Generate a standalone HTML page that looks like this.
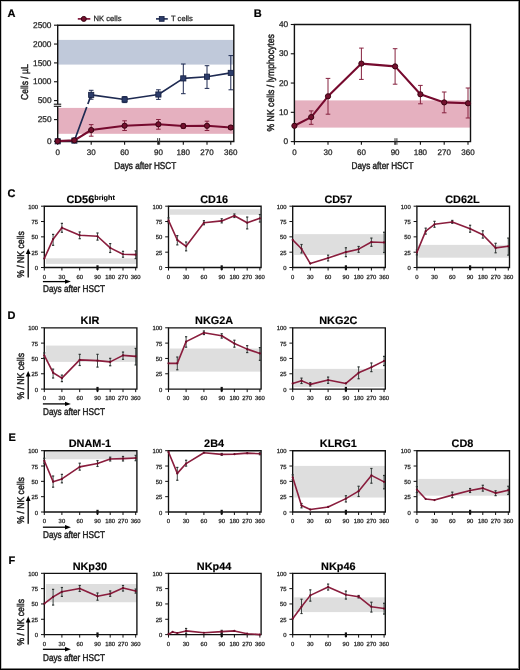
<!DOCTYPE html>
<html><head><meta charset="utf-8"><style>
html,body{margin:0;padding:0;background:#fff;}
svg{display:block;font-family:"Liberation Sans", sans-serif;will-change:transform;text-rendering:geometricPrecision;}
</style></head><body>
<svg width="520" height="670" viewBox="0 0 520 670">
<rect width="520" height="670" fill="#fff"/>
<g>
<rect width="520" height="670" fill="#fff"/>
<rect x="0.00" y="0.00" width="520.00" height="1.00" fill="#000" />
<rect x="0.00" y="0.00" width="1.00" height="670.00" fill="#000" />
<rect x="1.00" y="1.00" width="518.00" height="1.00" fill="#c8c8c8" />
<rect x="1.00" y="1.00" width="1.00" height="668.00" fill="#c8c8c8" />
<rect x="518.00" y="1.00" width="1.00" height="668.00" fill="#808080" />
<rect x="1.00" y="668.00" width="518.00" height="1.00" fill="#808080" />
<rect x="519.00" y="0.00" width="1.00" height="670.00" fill="#000" />
<rect x="0.00" y="669.00" width="520.00" height="1.00" fill="#000" />
<text x="7.60" y="17.20" font-size="11" text-anchor="start" font-weight="bold" fill="#000" stroke="#000" stroke-width="0.2" >A</text>
<text x="253.80" y="16.90" font-size="11" text-anchor="start" font-weight="bold" fill="#000" stroke="#000" stroke-width="0.2" >B</text>
<text x="7.60" y="196.80" font-size="11" text-anchor="start" font-weight="bold" fill="#000" stroke="#000" stroke-width="0.2" >C</text>
<text x="7.60" y="318.60" font-size="11" text-anchor="start" font-weight="bold" fill="#000" stroke="#000" stroke-width="0.2" >D</text>
<text x="8.40" y="441.20" font-size="11" text-anchor="start" font-weight="bold" fill="#000" stroke="#000" stroke-width="0.2" >E</text>
<text x="8.40" y="564.20" font-size="11" text-anchor="start" font-weight="bold" fill="#000" stroke="#000" stroke-width="0.2" >F</text>
<rect x="57.70" y="39.90" width="176.10" height="24.69" fill="#c0c9da" />
<rect x="57.70" y="107.90" width="176.10" height="25.90" fill="#e5b0bf" />
<path d="M57.7,25.2 H233.8 V141.5 H57.7 Z" fill="none" stroke="#111" stroke-width="1.4"/>
<rect x="56.20" y="104.30" width="3.00" height="2.00" fill="#fff" />
<line x1="53.80" y1="104.20" x2="61.20" y2="104.20" stroke="#111" stroke-width="1.1" />
<line x1="53.80" y1="106.30" x2="61.20" y2="106.30" stroke="#111" stroke-width="1.1" />
<line x1="54.00" y1="25.20" x2="57.70" y2="25.20" stroke="#111" stroke-width="1.1" />
<text x="51.50" y="27.80" font-size="8.3" text-anchor="end" font-weight="normal" fill="#222" stroke="#222" stroke-width="0.25" >2500</text>
<line x1="54.00" y1="44.05" x2="57.70" y2="44.05" stroke="#111" stroke-width="1.1" />
<text x="51.50" y="46.65" font-size="8.3" text-anchor="end" font-weight="normal" fill="#222" stroke="#222" stroke-width="0.25" >2000</text>
<line x1="54.00" y1="62.90" x2="57.70" y2="62.90" stroke="#111" stroke-width="1.1" />
<text x="51.50" y="65.50" font-size="8.3" text-anchor="end" font-weight="normal" fill="#222" stroke="#222" stroke-width="0.25" >1500</text>
<line x1="54.00" y1="81.75" x2="57.70" y2="81.75" stroke="#111" stroke-width="1.1" />
<text x="51.50" y="84.35" font-size="8.3" text-anchor="end" font-weight="normal" fill="#222" stroke="#222" stroke-width="0.25" >1000</text>
<line x1="54.00" y1="100.60" x2="57.70" y2="100.60" stroke="#111" stroke-width="1.1" />
<text x="51.50" y="103.20" font-size="8.3" text-anchor="end" font-weight="normal" fill="#222" stroke="#222" stroke-width="0.25" >500</text>
<line x1="54.00" y1="119.60" x2="57.70" y2="119.60" stroke="#111" stroke-width="1.1" />
<text x="51.50" y="122.20" font-size="8.3" text-anchor="end" font-weight="normal" fill="#222" stroke="#222" stroke-width="0.25" >250</text>
<line x1="54.00" y1="141.30" x2="57.70" y2="141.30" stroke="#111" stroke-width="1.1" />
<text x="51.50" y="143.90" font-size="8.3" text-anchor="end" font-weight="normal" fill="#222" stroke="#222" stroke-width="0.25" >0</text>
<line x1="57.70" y1="141.50" x2="57.70" y2="144.70" stroke="#111" stroke-width="1.1" />
<text x="57.70" y="155.20" font-size="8" text-anchor="middle" font-weight="normal" fill="#222" stroke="#222" stroke-width="0.25" >0</text>
<line x1="91.20" y1="141.50" x2="91.20" y2="144.70" stroke="#111" stroke-width="1.1" />
<text x="91.20" y="155.20" font-size="8" text-anchor="middle" font-weight="normal" fill="#222" stroke="#222" stroke-width="0.25" >30</text>
<line x1="124.60" y1="141.50" x2="124.60" y2="144.70" stroke="#111" stroke-width="1.1" />
<text x="124.60" y="155.20" font-size="8" text-anchor="middle" font-weight="normal" fill="#222" stroke="#222" stroke-width="0.25" >60</text>
<line x1="158.40" y1="141.50" x2="158.40" y2="144.70" stroke="#111" stroke-width="1.1" />
<text x="158.40" y="155.20" font-size="8" text-anchor="middle" font-weight="normal" fill="#222" stroke="#222" stroke-width="0.25" >90</text>
<line x1="183.30" y1="141.50" x2="183.30" y2="144.70" stroke="#111" stroke-width="1.1" />
<text x="183.30" y="155.20" font-size="8" text-anchor="middle" font-weight="normal" fill="#222" stroke="#222" stroke-width="0.25" >180</text>
<line x1="207.00" y1="141.50" x2="207.00" y2="144.70" stroke="#111" stroke-width="1.1" />
<text x="207.00" y="155.20" font-size="8" text-anchor="middle" font-weight="normal" fill="#222" stroke="#222" stroke-width="0.25" >270</text>
<line x1="230.80" y1="141.50" x2="230.80" y2="144.70" stroke="#111" stroke-width="1.1" />
<text x="230.80" y="155.20" font-size="8" text-anchor="middle" font-weight="normal" fill="#222" stroke="#222" stroke-width="0.25" >360</text>
<line x1="157.70" y1="138.10" x2="157.70" y2="144.70" stroke="#333" stroke-width="1.0" />
<line x1="159.60" y1="138.10" x2="159.60" y2="144.70" stroke="#333" stroke-width="1.0" />
<text x="114.30" y="168.60" font-size="10" text-anchor="start" font-weight="normal" fill="#222" stroke="#222" stroke-width="0.45" textLength="61.90" lengthAdjust="spacingAndGlyphs" >Days after HSCT</text>
<text x="0.00" y="0.00" font-size="10" text-anchor="start" font-weight="normal" fill="#222" stroke="#222" stroke-width="0.45" textLength="35.70" lengthAdjust="spacingAndGlyphs" transform="translate(27.6,100) rotate(-90)">Cells / µL</text>
<line x1="91.20" y1="90.30" x2="91.20" y2="99.20" stroke="#1e2a52" stroke-width="1.0" />
<line x1="88.90" y1="90.30" x2="93.50" y2="90.30" stroke="#1e2a52" stroke-width="1.0" />
<line x1="88.90" y1="99.20" x2="93.50" y2="99.20" stroke="#1e2a52" stroke-width="1.0" />
<line x1="124.60" y1="96.60" x2="124.60" y2="102.60" stroke="#1e2a52" stroke-width="1.0" />
<line x1="122.30" y1="96.60" x2="126.90" y2="96.60" stroke="#1e2a52" stroke-width="1.0" />
<line x1="122.30" y1="102.60" x2="126.90" y2="102.60" stroke="#1e2a52" stroke-width="1.0" />
<line x1="158.40" y1="89.80" x2="158.40" y2="99.40" stroke="#1e2a52" stroke-width="1.0" />
<line x1="156.10" y1="89.80" x2="160.70" y2="89.80" stroke="#1e2a52" stroke-width="1.0" />
<line x1="156.10" y1="99.40" x2="160.70" y2="99.40" stroke="#1e2a52" stroke-width="1.0" />
<line x1="183.30" y1="64.00" x2="183.30" y2="93.70" stroke="#1e2a52" stroke-width="1.0" />
<line x1="181.00" y1="64.00" x2="185.60" y2="64.00" stroke="#1e2a52" stroke-width="1.0" />
<line x1="181.00" y1="93.70" x2="185.60" y2="93.70" stroke="#1e2a52" stroke-width="1.0" />
<line x1="207.00" y1="65.70" x2="207.00" y2="88.40" stroke="#1e2a52" stroke-width="1.0" />
<line x1="204.70" y1="65.70" x2="209.30" y2="65.70" stroke="#1e2a52" stroke-width="1.0" />
<line x1="204.70" y1="88.40" x2="209.30" y2="88.40" stroke="#1e2a52" stroke-width="1.0" />
<line x1="230.80" y1="55.60" x2="230.80" y2="89.80" stroke="#1e2a52" stroke-width="1.0" />
<line x1="228.50" y1="55.60" x2="233.10" y2="55.60" stroke="#1e2a52" stroke-width="1.0" />
<line x1="228.50" y1="89.80" x2="233.10" y2="89.80" stroke="#1e2a52" stroke-width="1.0" />
<polyline points="57.70,141.30 74.40,140.60 91.20,94.90 124.60,99.50 158.40,94.50 183.30,78.40 207.00,76.70 230.80,72.90" fill="none" stroke="#1e2a52" stroke-width="1.6" stroke-linejoin="round"/>
<line x1="87.89" y1="103.9" x2="86.75" y2="107.0" stroke="#fff" stroke-width="3"/>
<rect x="55.10" y="138.70" width="5.20" height="5.20" fill="#2c3c6a" stroke="#151f40" stroke-width="0.8"/>
<rect x="71.80" y="138.00" width="5.20" height="5.20" fill="#2c3c6a" stroke="#151f40" stroke-width="0.8"/>
<rect x="88.60" y="92.30" width="5.20" height="5.20" fill="#2c3c6a" stroke="#151f40" stroke-width="0.8"/>
<rect x="122.00" y="96.90" width="5.20" height="5.20" fill="#2c3c6a" stroke="#151f40" stroke-width="0.8"/>
<rect x="155.80" y="91.90" width="5.20" height="5.20" fill="#2c3c6a" stroke="#151f40" stroke-width="0.8"/>
<rect x="180.70" y="75.80" width="5.20" height="5.20" fill="#2c3c6a" stroke="#151f40" stroke-width="0.8"/>
<rect x="204.40" y="74.10" width="5.20" height="5.20" fill="#2c3c6a" stroke="#151f40" stroke-width="0.8"/>
<rect x="228.20" y="70.30" width="5.20" height="5.20" fill="#2c3c6a" stroke="#151f40" stroke-width="0.8"/>
<line x1="91.20" y1="124.60" x2="91.20" y2="136.20" stroke="#86223f" stroke-width="1.0" />
<line x1="88.90" y1="124.60" x2="93.50" y2="124.60" stroke="#86223f" stroke-width="1.0" />
<line x1="88.90" y1="136.20" x2="93.50" y2="136.20" stroke="#86223f" stroke-width="1.0" />
<line x1="124.60" y1="120.80" x2="124.60" y2="130.50" stroke="#86223f" stroke-width="1.0" />
<line x1="122.30" y1="120.80" x2="126.90" y2="120.80" stroke="#86223f" stroke-width="1.0" />
<line x1="122.30" y1="130.50" x2="126.90" y2="130.50" stroke="#86223f" stroke-width="1.0" />
<line x1="158.40" y1="119.50" x2="158.40" y2="129.20" stroke="#86223f" stroke-width="1.0" />
<line x1="156.10" y1="119.50" x2="160.70" y2="119.50" stroke="#86223f" stroke-width="1.0" />
<line x1="156.10" y1="129.20" x2="160.70" y2="129.20" stroke="#86223f" stroke-width="1.0" />
<line x1="183.30" y1="123.80" x2="183.30" y2="128.30" stroke="#86223f" stroke-width="1.0" />
<line x1="181.00" y1="123.80" x2="185.60" y2="123.80" stroke="#86223f" stroke-width="1.0" />
<line x1="181.00" y1="128.30" x2="185.60" y2="128.30" stroke="#86223f" stroke-width="1.0" />
<line x1="207.00" y1="121.20" x2="207.00" y2="130.50" stroke="#86223f" stroke-width="1.0" />
<line x1="204.70" y1="121.20" x2="209.30" y2="121.20" stroke="#86223f" stroke-width="1.0" />
<line x1="204.70" y1="130.50" x2="209.30" y2="130.50" stroke="#86223f" stroke-width="1.0" />
<line x1="230.80" y1="125.50" x2="230.80" y2="129.50" stroke="#86223f" stroke-width="1.0" />
<line x1="228.50" y1="125.50" x2="233.10" y2="125.50" stroke="#86223f" stroke-width="1.0" />
<line x1="228.50" y1="129.50" x2="233.10" y2="129.50" stroke="#86223f" stroke-width="1.0" />
<polyline points="57.70,141.10 74.40,140.30 91.20,130.00 124.60,125.70 158.40,124.30 183.30,126.00 207.00,125.80 230.80,127.50" fill="none" stroke="#760a2e" stroke-width="2.1" stroke-linejoin="round"/>
<circle cx="57.70" cy="141.10" r="2.6" fill="#74102e" stroke="#3a0412" stroke-width="1.0"/>
<circle cx="74.40" cy="140.30" r="2.6" fill="#74102e" stroke="#3a0412" stroke-width="1.0"/>
<circle cx="91.20" cy="130.00" r="2.6" fill="#74102e" stroke="#3a0412" stroke-width="1.0"/>
<circle cx="124.60" cy="125.70" r="2.6" fill="#74102e" stroke="#3a0412" stroke-width="1.0"/>
<circle cx="158.40" cy="124.30" r="2.6" fill="#74102e" stroke="#3a0412" stroke-width="1.0"/>
<circle cx="183.30" cy="126.00" r="2.6" fill="#74102e" stroke="#3a0412" stroke-width="1.0"/>
<circle cx="207.00" cy="125.80" r="2.6" fill="#74102e" stroke="#3a0412" stroke-width="1.0"/>
<circle cx="230.80" cy="127.50" r="2.6" fill="#74102e" stroke="#3a0412" stroke-width="1.0"/>
<line x1="77.80" y1="18.90" x2="90.30" y2="18.90" stroke="#760a2e" stroke-width="1.6" />
<circle cx="83.8" cy="18.9" r="2.5" fill="#74102e" stroke="#3a0412" stroke-width="1.0"/>
<text x="93.60" y="21.40" font-size="7.6" text-anchor="start" font-weight="normal" fill="#222" stroke="#222" stroke-width="0.25" >NK cells</text>
<line x1="156.00" y1="18.90" x2="167.80" y2="18.90" stroke="#1e2a52" stroke-width="1.6" />
<rect x="159.30" y="16.50" width="4.80" height="4.80" fill="#2c3c6a" stroke="#151f40" stroke-width="0.8"/>
<text x="171.00" y="21.40" font-size="7.6" text-anchor="start" font-weight="normal" fill="#222" stroke="#222" stroke-width="0.25" >T cells</text>
<rect x="294.40" y="100.40" width="176.10" height="27.20" fill="#e5b0bf" />
<path d="M294.4,24.5 H470.5 V141.6 H294.4 Z" fill="none" stroke="#111" stroke-width="1.4"/>
<line x1="290.80" y1="141.60" x2="294.40" y2="141.60" stroke="#111" stroke-width="1.1" />
<text x="288.20" y="144.20" font-size="8.3" text-anchor="end" font-weight="normal" fill="#222" stroke="#222" stroke-width="0.25" >0</text>
<line x1="290.80" y1="112.32" x2="294.40" y2="112.32" stroke="#111" stroke-width="1.1" />
<text x="288.20" y="114.92" font-size="8.3" text-anchor="end" font-weight="normal" fill="#222" stroke="#222" stroke-width="0.25" >10</text>
<line x1="290.80" y1="83.05" x2="294.40" y2="83.05" stroke="#111" stroke-width="1.1" />
<text x="288.20" y="85.65" font-size="8.3" text-anchor="end" font-weight="normal" fill="#222" stroke="#222" stroke-width="0.25" >20</text>
<line x1="290.80" y1="53.77" x2="294.40" y2="53.77" stroke="#111" stroke-width="1.1" />
<text x="288.20" y="56.37" font-size="8.3" text-anchor="end" font-weight="normal" fill="#222" stroke="#222" stroke-width="0.25" >30</text>
<line x1="290.80" y1="24.50" x2="294.40" y2="24.50" stroke="#111" stroke-width="1.1" />
<text x="288.20" y="27.10" font-size="8.3" text-anchor="end" font-weight="normal" fill="#222" stroke="#222" stroke-width="0.25" >40</text>
<line x1="294.40" y1="141.60" x2="294.40" y2="144.80" stroke="#111" stroke-width="1.1" />
<text x="294.40" y="155.40" font-size="8" text-anchor="middle" font-weight="normal" fill="#222" stroke="#222" stroke-width="0.25" >0</text>
<line x1="328.00" y1="141.60" x2="328.00" y2="144.80" stroke="#111" stroke-width="1.1" />
<text x="328.00" y="155.40" font-size="8" text-anchor="middle" font-weight="normal" fill="#222" stroke="#222" stroke-width="0.25" >30</text>
<line x1="361.40" y1="141.60" x2="361.40" y2="144.80" stroke="#111" stroke-width="1.1" />
<text x="361.40" y="155.40" font-size="8" text-anchor="middle" font-weight="normal" fill="#222" stroke="#222" stroke-width="0.25" >60</text>
<line x1="395.10" y1="141.60" x2="395.10" y2="144.80" stroke="#111" stroke-width="1.1" />
<text x="395.10" y="155.40" font-size="8" text-anchor="middle" font-weight="normal" fill="#222" stroke="#222" stroke-width="0.25" >90</text>
<line x1="420.40" y1="141.60" x2="420.40" y2="144.80" stroke="#111" stroke-width="1.1" />
<text x="420.40" y="155.40" font-size="8" text-anchor="middle" font-weight="normal" fill="#222" stroke="#222" stroke-width="0.25" >180</text>
<line x1="444.20" y1="141.60" x2="444.20" y2="144.80" stroke="#111" stroke-width="1.1" />
<text x="444.20" y="155.40" font-size="8" text-anchor="middle" font-weight="normal" fill="#222" stroke="#222" stroke-width="0.25" >270</text>
<line x1="468.00" y1="141.60" x2="468.00" y2="144.80" stroke="#111" stroke-width="1.1" />
<text x="468.00" y="155.40" font-size="8" text-anchor="middle" font-weight="normal" fill="#222" stroke="#222" stroke-width="0.25" >360</text>
<line x1="395.00" y1="138.20" x2="395.00" y2="144.80" stroke="#333" stroke-width="1.0" />
<line x1="396.90" y1="138.20" x2="396.90" y2="144.80" stroke="#333" stroke-width="1.0" />
<text x="351.60" y="168.90" font-size="10" text-anchor="start" font-weight="normal" fill="#222" stroke="#222" stroke-width="0.45" textLength="61.90" lengthAdjust="spacingAndGlyphs" >Days after HSCT</text>
<text x="0.00" y="0.00" font-size="10" text-anchor="start" font-weight="normal" fill="#222" stroke="#222" stroke-width="0.45" textLength="97.40" lengthAdjust="spacingAndGlyphs" transform="translate(273.7,131.5) rotate(-90)">% NK cells / lymphocytes</text>
<line x1="311.20" y1="110.90" x2="311.20" y2="124.30" stroke="#86223f" stroke-width="1.0" />
<line x1="308.90" y1="110.90" x2="313.50" y2="110.90" stroke="#86223f" stroke-width="1.0" />
<line x1="308.90" y1="124.30" x2="313.50" y2="124.30" stroke="#86223f" stroke-width="1.0" />
<line x1="328.00" y1="78.40" x2="328.00" y2="114.20" stroke="#86223f" stroke-width="1.0" />
<line x1="325.70" y1="78.40" x2="330.30" y2="78.40" stroke="#86223f" stroke-width="1.0" />
<line x1="325.70" y1="114.20" x2="330.30" y2="114.20" stroke="#86223f" stroke-width="1.0" />
<line x1="361.40" y1="48.10" x2="361.40" y2="79.40" stroke="#86223f" stroke-width="1.0" />
<line x1="359.10" y1="48.10" x2="363.70" y2="48.10" stroke="#86223f" stroke-width="1.0" />
<line x1="359.10" y1="79.40" x2="363.70" y2="79.40" stroke="#86223f" stroke-width="1.0" />
<line x1="395.10" y1="48.70" x2="395.10" y2="84.20" stroke="#86223f" stroke-width="1.0" />
<line x1="392.80" y1="48.70" x2="397.40" y2="48.70" stroke="#86223f" stroke-width="1.0" />
<line x1="392.80" y1="84.20" x2="397.40" y2="84.20" stroke="#86223f" stroke-width="1.0" />
<line x1="420.40" y1="85.40" x2="420.40" y2="103.80" stroke="#86223f" stroke-width="1.0" />
<line x1="418.10" y1="85.40" x2="422.70" y2="85.40" stroke="#86223f" stroke-width="1.0" />
<line x1="418.10" y1="103.80" x2="422.70" y2="103.80" stroke="#86223f" stroke-width="1.0" />
<line x1="444.20" y1="92.00" x2="444.20" y2="112.80" stroke="#86223f" stroke-width="1.0" />
<line x1="441.90" y1="92.00" x2="446.50" y2="92.00" stroke="#86223f" stroke-width="1.0" />
<line x1="441.90" y1="112.80" x2="446.50" y2="112.80" stroke="#86223f" stroke-width="1.0" />
<line x1="468.00" y1="88.00" x2="468.00" y2="118.00" stroke="#86223f" stroke-width="1.0" />
<line x1="465.70" y1="88.00" x2="470.30" y2="88.00" stroke="#86223f" stroke-width="1.0" />
<line x1="465.70" y1="118.00" x2="470.30" y2="118.00" stroke="#86223f" stroke-width="1.0" />
<polyline points="294.40,125.80 311.20,117.10 328.00,96.30 361.40,63.60 395.10,66.40 420.40,94.30 444.20,102.40 468.00,103.30" fill="none" stroke="#760a2e" stroke-width="2.1" stroke-linejoin="round"/>
<circle cx="294.40" cy="125.80" r="2.6" fill="#74102e" stroke="#3a0412" stroke-width="1.0"/>
<circle cx="311.20" cy="117.10" r="2.6" fill="#74102e" stroke="#3a0412" stroke-width="1.0"/>
<circle cx="328.00" cy="96.30" r="2.6" fill="#74102e" stroke="#3a0412" stroke-width="1.0"/>
<circle cx="361.40" cy="63.60" r="2.6" fill="#74102e" stroke="#3a0412" stroke-width="1.0"/>
<circle cx="395.10" cy="66.40" r="2.6" fill="#74102e" stroke="#3a0412" stroke-width="1.0"/>
<circle cx="420.40" cy="94.30" r="2.6" fill="#74102e" stroke="#3a0412" stroke-width="1.0"/>
<circle cx="444.20" cy="102.40" r="2.6" fill="#74102e" stroke="#3a0412" stroke-width="1.0"/>
<circle cx="468.00" cy="103.30" r="2.6" fill="#74102e" stroke="#3a0412" stroke-width="1.0"/>
<rect x="45.80" y="258.31" width="91.10" height="5.58" fill="#dedede" />
<path d="M44.3,206.20 H136.90 V267.5 H44.3 Z" fill="none" stroke="#111" stroke-width="1.35"/>
<line x1="41.00" y1="267.50" x2="44.30" y2="267.50" stroke="#111" stroke-width="1.0" />
<text x="38.10" y="270.00" font-size="5.9" text-anchor="end" font-weight="normal" fill="#222" stroke="#222" stroke-width="0.25" >0</text>
<line x1="41.00" y1="252.18" x2="44.30" y2="252.18" stroke="#111" stroke-width="1.0" />
<text x="38.10" y="254.68" font-size="5.9" text-anchor="end" font-weight="normal" fill="#222" stroke="#222" stroke-width="0.25" >25</text>
<line x1="41.00" y1="236.85" x2="44.30" y2="236.85" stroke="#111" stroke-width="1.0" />
<text x="38.10" y="239.35" font-size="5.9" text-anchor="end" font-weight="normal" fill="#222" stroke="#222" stroke-width="0.25" >50</text>
<line x1="41.00" y1="221.53" x2="44.30" y2="221.53" stroke="#111" stroke-width="1.0" />
<text x="38.10" y="224.03" font-size="5.9" text-anchor="end" font-weight="normal" fill="#222" stroke="#222" stroke-width="0.25" >75</text>
<line x1="41.00" y1="206.20" x2="44.30" y2="206.20" stroke="#111" stroke-width="1.0" />
<text x="38.10" y="208.70" font-size="5.9" text-anchor="end" font-weight="normal" fill="#222" stroke="#222" stroke-width="0.25" >100</text>
<line x1="44.30" y1="267.50" x2="44.30" y2="270.50" stroke="#111" stroke-width="1.0" />
<text x="44.30" y="278.80" font-size="5.9" text-anchor="middle" font-weight="normal" fill="#222" stroke="#222" stroke-width="0.25" >0</text>
<line x1="61.90" y1="267.50" x2="61.90" y2="270.50" stroke="#111" stroke-width="1.0" />
<text x="61.90" y="278.80" font-size="5.9" text-anchor="middle" font-weight="normal" fill="#222" stroke="#222" stroke-width="0.25" >30</text>
<line x1="79.70" y1="267.50" x2="79.70" y2="270.50" stroke="#111" stroke-width="1.0" />
<text x="79.70" y="278.80" font-size="5.9" text-anchor="middle" font-weight="normal" fill="#222" stroke="#222" stroke-width="0.25" >60</text>
<line x1="97.50" y1="267.50" x2="97.50" y2="270.50" stroke="#111" stroke-width="1.0" />
<text x="97.50" y="278.80" font-size="5.9" text-anchor="middle" font-weight="normal" fill="#222" stroke="#222" stroke-width="0.25" >90</text>
<line x1="110.20" y1="267.50" x2="110.20" y2="270.50" stroke="#111" stroke-width="1.0" />
<text x="110.20" y="278.80" font-size="5.9" text-anchor="middle" font-weight="normal" fill="#222" stroke="#222" stroke-width="0.25" >180</text>
<line x1="123.00" y1="267.50" x2="123.00" y2="270.50" stroke="#111" stroke-width="1.0" />
<text x="123.00" y="278.80" font-size="5.9" text-anchor="middle" font-weight="normal" fill="#222" stroke="#222" stroke-width="0.25" >270</text>
<line x1="135.70" y1="267.50" x2="135.70" y2="270.50" stroke="#111" stroke-width="1.0" />
<text x="135.70" y="278.80" font-size="5.9" text-anchor="middle" font-weight="normal" fill="#222" stroke="#222" stroke-width="0.25" >360</text>
<rect x="96.40" y="265.30" width="2.20" height="4.60" fill="#111" />
<text x="80.30" y="202.80" font-size="10.9" text-anchor="middle" font-weight="bold" fill="#000" stroke="#000" stroke-width="0.15" >CD56</text>
<text x="94.30" y="199.60" font-size="7.2" text-anchor="start" font-weight="bold" fill="#000" stroke="#000" stroke-width="0.1" textLength="20.60" lengthAdjust="spacingAndGlyphs" >bright</text>
<line x1="53.10" y1="234.40" x2="53.10" y2="245.31" stroke="#2e3533" stroke-width="0.9" />
<line x1="52.00" y1="234.40" x2="54.20" y2="234.40" stroke="#2e3533" stroke-width="1.2" />
<line x1="52.00" y1="245.31" x2="54.20" y2="245.31" stroke="#2e3533" stroke-width="1.2" />
<line x1="61.90" y1="223.36" x2="61.90" y2="232.25" stroke="#2e3533" stroke-width="0.9" />
<line x1="60.80" y1="223.36" x2="63.00" y2="223.36" stroke="#2e3533" stroke-width="1.2" />
<line x1="60.80" y1="232.25" x2="63.00" y2="232.25" stroke="#2e3533" stroke-width="1.2" />
<line x1="79.70" y1="231.95" x2="79.70" y2="238.69" stroke="#2e3533" stroke-width="0.9" />
<line x1="78.60" y1="231.95" x2="80.80" y2="231.95" stroke="#2e3533" stroke-width="1.2" />
<line x1="78.60" y1="238.69" x2="80.80" y2="238.69" stroke="#2e3533" stroke-width="1.2" />
<line x1="97.50" y1="232.99" x2="97.50" y2="240.10" stroke="#2e3533" stroke-width="0.9" />
<line x1="96.40" y1="232.99" x2="98.60" y2="232.99" stroke="#2e3533" stroke-width="1.2" />
<line x1="96.40" y1="240.10" x2="98.60" y2="240.10" stroke="#2e3533" stroke-width="1.2" />
<line x1="110.20" y1="243.59" x2="110.20" y2="252.48" stroke="#2e3533" stroke-width="0.9" />
<line x1="109.10" y1="243.59" x2="111.30" y2="243.59" stroke="#2e3533" stroke-width="1.2" />
<line x1="109.10" y1="252.48" x2="111.30" y2="252.48" stroke="#2e3533" stroke-width="1.2" />
<line x1="123.00" y1="251.32" x2="123.00" y2="257.20" stroke="#2e3533" stroke-width="0.9" />
<line x1="121.90" y1="251.32" x2="124.10" y2="251.32" stroke="#2e3533" stroke-width="1.2" />
<line x1="121.90" y1="257.20" x2="124.10" y2="257.20" stroke="#2e3533" stroke-width="1.2" />
<line x1="135.70" y1="250.89" x2="135.70" y2="258.61" stroke="#2e3533" stroke-width="0.9" />
<line x1="134.60" y1="250.89" x2="136.80" y2="250.89" stroke="#2e3533" stroke-width="1.2" />
<line x1="134.60" y1="258.61" x2="136.80" y2="258.61" stroke="#2e3533" stroke-width="1.2" />
<polyline points="44.30,258.55 53.10,239.18 61.90,227.66 79.70,235.32 97.50,236.24 110.20,247.88 123.00,254.26 135.70,254.63" fill="none" stroke="#8a1d3d" stroke-width="1.6" stroke-linejoin="round"/>
<circle cx="44.30" cy="258.55" r="1.1" fill="#6a0c28"/>
<circle cx="53.10" cy="239.18" r="1.1" fill="#6a0c28"/>
<circle cx="61.90" cy="227.66" r="1.1" fill="#6a0c28"/>
<circle cx="79.70" cy="235.32" r="1.1" fill="#6a0c28"/>
<circle cx="97.50" cy="236.24" r="1.1" fill="#6a0c28"/>
<circle cx="110.20" cy="247.88" r="1.1" fill="#6a0c28"/>
<circle cx="123.00" cy="254.26" r="1.1" fill="#6a0c28"/>
<circle cx="135.70" cy="254.63" r="1.1" fill="#6a0c28"/>
<rect x="170.00" y="209.26" width="91.10" height="5.52" fill="#dedede" />
<path d="M168.5,206.20 H261.10 V267.5 H168.5 Z" fill="none" stroke="#111" stroke-width="1.35"/>
<line x1="165.20" y1="267.50" x2="168.50" y2="267.50" stroke="#111" stroke-width="1.0" />
<text x="162.30" y="270.00" font-size="5.9" text-anchor="end" font-weight="normal" fill="#222" stroke="#222" stroke-width="0.25" >0</text>
<line x1="165.20" y1="252.18" x2="168.50" y2="252.18" stroke="#111" stroke-width="1.0" />
<text x="162.30" y="254.68" font-size="5.9" text-anchor="end" font-weight="normal" fill="#222" stroke="#222" stroke-width="0.25" >25</text>
<line x1="165.20" y1="236.85" x2="168.50" y2="236.85" stroke="#111" stroke-width="1.0" />
<text x="162.30" y="239.35" font-size="5.9" text-anchor="end" font-weight="normal" fill="#222" stroke="#222" stroke-width="0.25" >50</text>
<line x1="165.20" y1="221.53" x2="168.50" y2="221.53" stroke="#111" stroke-width="1.0" />
<text x="162.30" y="224.03" font-size="5.9" text-anchor="end" font-weight="normal" fill="#222" stroke="#222" stroke-width="0.25" >75</text>
<line x1="165.20" y1="206.20" x2="168.50" y2="206.20" stroke="#111" stroke-width="1.0" />
<text x="162.30" y="208.70" font-size="5.9" text-anchor="end" font-weight="normal" fill="#222" stroke="#222" stroke-width="0.25" >100</text>
<line x1="168.50" y1="267.50" x2="168.50" y2="270.50" stroke="#111" stroke-width="1.0" />
<text x="168.50" y="278.80" font-size="5.9" text-anchor="middle" font-weight="normal" fill="#222" stroke="#222" stroke-width="0.25" >0</text>
<line x1="186.10" y1="267.50" x2="186.10" y2="270.50" stroke="#111" stroke-width="1.0" />
<text x="186.10" y="278.80" font-size="5.9" text-anchor="middle" font-weight="normal" fill="#222" stroke="#222" stroke-width="0.25" >30</text>
<line x1="203.90" y1="267.50" x2="203.90" y2="270.50" stroke="#111" stroke-width="1.0" />
<text x="203.90" y="278.80" font-size="5.9" text-anchor="middle" font-weight="normal" fill="#222" stroke="#222" stroke-width="0.25" >60</text>
<line x1="221.70" y1="267.50" x2="221.70" y2="270.50" stroke="#111" stroke-width="1.0" />
<text x="221.70" y="278.80" font-size="5.9" text-anchor="middle" font-weight="normal" fill="#222" stroke="#222" stroke-width="0.25" >90</text>
<line x1="234.40" y1="267.50" x2="234.40" y2="270.50" stroke="#111" stroke-width="1.0" />
<text x="234.40" y="278.80" font-size="5.9" text-anchor="middle" font-weight="normal" fill="#222" stroke="#222" stroke-width="0.25" >180</text>
<line x1="247.20" y1="267.50" x2="247.20" y2="270.50" stroke="#111" stroke-width="1.0" />
<text x="247.20" y="278.80" font-size="5.9" text-anchor="middle" font-weight="normal" fill="#222" stroke="#222" stroke-width="0.25" >270</text>
<line x1="259.90" y1="267.50" x2="259.90" y2="270.50" stroke="#111" stroke-width="1.0" />
<text x="259.90" y="278.80" font-size="5.9" text-anchor="middle" font-weight="normal" fill="#222" stroke="#222" stroke-width="0.25" >360</text>
<rect x="220.60" y="265.30" width="2.20" height="4.60" fill="#111" />
<text x="214.10" y="202.80" font-size="10.9" text-anchor="middle" font-weight="bold" fill="#000" stroke="#000" stroke-width="0.15" >CD16</text>
<line x1="168.50" y1="217.91" x2="168.50" y2="222.81" stroke="#2e3533" stroke-width="0.9" />
<line x1="167.40" y1="217.91" x2="169.60" y2="217.91" stroke="#2e3533" stroke-width="1.2" />
<line x1="167.40" y1="222.81" x2="169.60" y2="222.81" stroke="#2e3533" stroke-width="1.2" />
<line x1="177.30" y1="235.62" x2="177.30" y2="244.88" stroke="#2e3533" stroke-width="0.9" />
<line x1="176.20" y1="235.62" x2="178.40" y2="235.62" stroke="#2e3533" stroke-width="1.2" />
<line x1="176.20" y1="244.88" x2="178.40" y2="244.88" stroke="#2e3533" stroke-width="1.2" />
<line x1="186.10" y1="242.00" x2="186.10" y2="250.83" stroke="#2e3533" stroke-width="0.9" />
<line x1="185.00" y1="242.00" x2="187.20" y2="242.00" stroke="#2e3533" stroke-width="1.2" />
<line x1="185.00" y1="250.83" x2="187.20" y2="250.83" stroke="#2e3533" stroke-width="1.2" />
<line x1="203.90" y1="220.73" x2="203.90" y2="224.71" stroke="#2e3533" stroke-width="0.9" />
<line x1="202.80" y1="220.73" x2="205.00" y2="220.73" stroke="#2e3533" stroke-width="1.2" />
<line x1="202.80" y1="224.71" x2="205.00" y2="224.71" stroke="#2e3533" stroke-width="1.2" />
<line x1="221.70" y1="218.77" x2="221.70" y2="222.87" stroke="#2e3533" stroke-width="0.9" />
<line x1="220.60" y1="218.77" x2="222.80" y2="218.77" stroke="#2e3533" stroke-width="1.2" />
<line x1="220.60" y1="222.87" x2="222.80" y2="222.87" stroke="#2e3533" stroke-width="1.2" />
<line x1="234.40" y1="213.99" x2="234.40" y2="217.48" stroke="#2e3533" stroke-width="0.9" />
<line x1="233.30" y1="213.99" x2="235.50" y2="213.99" stroke="#2e3533" stroke-width="1.2" />
<line x1="233.30" y1="217.48" x2="235.50" y2="217.48" stroke="#2e3533" stroke-width="1.2" />
<line x1="247.20" y1="217.05" x2="247.20" y2="228.88" stroke="#2e3533" stroke-width="0.9" />
<line x1="246.10" y1="217.05" x2="248.30" y2="217.05" stroke="#2e3533" stroke-width="1.2" />
<line x1="246.10" y1="228.88" x2="248.30" y2="228.88" stroke="#2e3533" stroke-width="1.2" />
<line x1="259.90" y1="214.54" x2="259.90" y2="222.02" stroke="#2e3533" stroke-width="0.9" />
<line x1="258.80" y1="214.54" x2="261.00" y2="214.54" stroke="#2e3533" stroke-width="1.2" />
<line x1="258.80" y1="222.02" x2="261.00" y2="222.02" stroke="#2e3533" stroke-width="1.2" />
<polyline points="168.50,220.36 177.30,239.98 186.10,246.29 203.90,222.75 221.70,220.91 234.40,215.82 247.20,222.75 259.90,218.34" fill="none" stroke="#8a1d3d" stroke-width="1.6" stroke-linejoin="round"/>
<circle cx="168.50" cy="220.36" r="1.1" fill="#6a0c28"/>
<circle cx="177.30" cy="239.98" r="1.1" fill="#6a0c28"/>
<circle cx="186.10" cy="246.29" r="1.1" fill="#6a0c28"/>
<circle cx="203.90" cy="222.75" r="1.1" fill="#6a0c28"/>
<circle cx="221.70" cy="220.91" r="1.1" fill="#6a0c28"/>
<circle cx="234.40" cy="215.82" r="1.1" fill="#6a0c28"/>
<circle cx="247.20" cy="222.75" r="1.1" fill="#6a0c28"/>
<circle cx="259.90" cy="218.34" r="1.1" fill="#6a0c28"/>
<rect x="294.20" y="234.15" width="91.10" height="20.84" fill="#dedede" />
<path d="M292.7,206.20 H385.30 V267.5 H292.7 Z" fill="none" stroke="#111" stroke-width="1.35"/>
<line x1="289.40" y1="267.50" x2="292.70" y2="267.50" stroke="#111" stroke-width="1.0" />
<text x="286.50" y="270.00" font-size="5.9" text-anchor="end" font-weight="normal" fill="#222" stroke="#222" stroke-width="0.25" >0</text>
<line x1="289.40" y1="252.18" x2="292.70" y2="252.18" stroke="#111" stroke-width="1.0" />
<text x="286.50" y="254.68" font-size="5.9" text-anchor="end" font-weight="normal" fill="#222" stroke="#222" stroke-width="0.25" >25</text>
<line x1="289.40" y1="236.85" x2="292.70" y2="236.85" stroke="#111" stroke-width="1.0" />
<text x="286.50" y="239.35" font-size="5.9" text-anchor="end" font-weight="normal" fill="#222" stroke="#222" stroke-width="0.25" >50</text>
<line x1="289.40" y1="221.53" x2="292.70" y2="221.53" stroke="#111" stroke-width="1.0" />
<text x="286.50" y="224.03" font-size="5.9" text-anchor="end" font-weight="normal" fill="#222" stroke="#222" stroke-width="0.25" >75</text>
<line x1="289.40" y1="206.20" x2="292.70" y2="206.20" stroke="#111" stroke-width="1.0" />
<text x="286.50" y="208.70" font-size="5.9" text-anchor="end" font-weight="normal" fill="#222" stroke="#222" stroke-width="0.25" >100</text>
<line x1="292.70" y1="267.50" x2="292.70" y2="270.50" stroke="#111" stroke-width="1.0" />
<text x="292.70" y="278.80" font-size="5.9" text-anchor="middle" font-weight="normal" fill="#222" stroke="#222" stroke-width="0.25" >0</text>
<line x1="310.30" y1="267.50" x2="310.30" y2="270.50" stroke="#111" stroke-width="1.0" />
<text x="310.30" y="278.80" font-size="5.9" text-anchor="middle" font-weight="normal" fill="#222" stroke="#222" stroke-width="0.25" >30</text>
<line x1="328.10" y1="267.50" x2="328.10" y2="270.50" stroke="#111" stroke-width="1.0" />
<text x="328.10" y="278.80" font-size="5.9" text-anchor="middle" font-weight="normal" fill="#222" stroke="#222" stroke-width="0.25" >60</text>
<line x1="345.90" y1="267.50" x2="345.90" y2="270.50" stroke="#111" stroke-width="1.0" />
<text x="345.90" y="278.80" font-size="5.9" text-anchor="middle" font-weight="normal" fill="#222" stroke="#222" stroke-width="0.25" >90</text>
<line x1="358.60" y1="267.50" x2="358.60" y2="270.50" stroke="#111" stroke-width="1.0" />
<text x="358.60" y="278.80" font-size="5.9" text-anchor="middle" font-weight="normal" fill="#222" stroke="#222" stroke-width="0.25" >180</text>
<line x1="371.40" y1="267.50" x2="371.40" y2="270.50" stroke="#111" stroke-width="1.0" />
<text x="371.40" y="278.80" font-size="5.9" text-anchor="middle" font-weight="normal" fill="#222" stroke="#222" stroke-width="0.25" >270</text>
<line x1="384.10" y1="267.50" x2="384.10" y2="270.50" stroke="#111" stroke-width="1.0" />
<text x="384.10" y="278.80" font-size="5.9" text-anchor="middle" font-weight="normal" fill="#222" stroke="#222" stroke-width="0.25" >360</text>
<rect x="344.80" y="265.30" width="2.20" height="4.60" fill="#111" />
<text x="338.30" y="202.80" font-size="10.9" text-anchor="middle" font-weight="bold" fill="#000" stroke="#000" stroke-width="0.15" >CD57</text>
<line x1="301.50" y1="244.51" x2="301.50" y2="252.97" stroke="#2e3533" stroke-width="0.9" />
<line x1="300.40" y1="244.51" x2="302.60" y2="244.51" stroke="#2e3533" stroke-width="1.2" />
<line x1="300.40" y1="252.97" x2="302.60" y2="252.97" stroke="#2e3533" stroke-width="1.2" />
<line x1="328.10" y1="255.18" x2="328.10" y2="260.88" stroke="#2e3533" stroke-width="0.9" />
<line x1="327.00" y1="255.18" x2="329.20" y2="255.18" stroke="#2e3533" stroke-width="1.2" />
<line x1="327.00" y1="260.88" x2="329.20" y2="260.88" stroke="#2e3533" stroke-width="1.2" />
<line x1="345.90" y1="247.76" x2="345.90" y2="256.65" stroke="#2e3533" stroke-width="0.9" />
<line x1="344.80" y1="247.76" x2="347.00" y2="247.76" stroke="#2e3533" stroke-width="1.2" />
<line x1="344.80" y1="256.65" x2="347.00" y2="256.65" stroke="#2e3533" stroke-width="1.2" />
<line x1="358.60" y1="246.47" x2="358.60" y2="252.30" stroke="#2e3533" stroke-width="0.9" />
<line x1="357.50" y1="246.47" x2="359.70" y2="246.47" stroke="#2e3533" stroke-width="1.2" />
<line x1="357.50" y1="252.30" x2="359.70" y2="252.30" stroke="#2e3533" stroke-width="1.2" />
<line x1="371.40" y1="238.08" x2="371.40" y2="246.29" stroke="#2e3533" stroke-width="0.9" />
<line x1="370.30" y1="238.08" x2="372.50" y2="238.08" stroke="#2e3533" stroke-width="1.2" />
<line x1="370.30" y1="246.29" x2="372.50" y2="246.29" stroke="#2e3533" stroke-width="1.2" />
<line x1="384.10" y1="232.25" x2="384.10" y2="252.54" stroke="#2e3533" stroke-width="0.9" />
<line x1="383.00" y1="232.25" x2="385.20" y2="232.25" stroke="#2e3533" stroke-width="1.2" />
<line x1="383.00" y1="252.54" x2="385.20" y2="252.54" stroke="#2e3533" stroke-width="1.2" />
<polyline points="292.70,239.91 301.50,248.80 310.30,263.58 328.10,258.00 345.90,252.11 358.60,249.17 371.40,242.00 384.10,242.43" fill="none" stroke="#8a1d3d" stroke-width="1.6" stroke-linejoin="round"/>
<circle cx="292.70" cy="239.91" r="1.1" fill="#6a0c28"/>
<circle cx="301.50" cy="248.80" r="1.1" fill="#6a0c28"/>
<circle cx="310.30" cy="263.58" r="1.1" fill="#6a0c28"/>
<circle cx="328.10" cy="258.00" r="1.1" fill="#6a0c28"/>
<circle cx="345.90" cy="252.11" r="1.1" fill="#6a0c28"/>
<circle cx="358.60" cy="249.17" r="1.1" fill="#6a0c28"/>
<circle cx="371.40" cy="242.00" r="1.1" fill="#6a0c28"/>
<circle cx="384.10" cy="242.43" r="1.1" fill="#6a0c28"/>
<rect x="418.40" y="244.88" width="91.10" height="12.81" fill="#dedede" />
<path d="M416.9,206.20 H509.50 V267.5 H416.9 Z" fill="none" stroke="#111" stroke-width="1.35"/>
<line x1="413.60" y1="267.50" x2="416.90" y2="267.50" stroke="#111" stroke-width="1.0" />
<text x="410.70" y="270.00" font-size="5.9" text-anchor="end" font-weight="normal" fill="#222" stroke="#222" stroke-width="0.25" >0</text>
<line x1="413.60" y1="252.18" x2="416.90" y2="252.18" stroke="#111" stroke-width="1.0" />
<text x="410.70" y="254.68" font-size="5.9" text-anchor="end" font-weight="normal" fill="#222" stroke="#222" stroke-width="0.25" >25</text>
<line x1="413.60" y1="236.85" x2="416.90" y2="236.85" stroke="#111" stroke-width="1.0" />
<text x="410.70" y="239.35" font-size="5.9" text-anchor="end" font-weight="normal" fill="#222" stroke="#222" stroke-width="0.25" >50</text>
<line x1="413.60" y1="221.53" x2="416.90" y2="221.53" stroke="#111" stroke-width="1.0" />
<text x="410.70" y="224.03" font-size="5.9" text-anchor="end" font-weight="normal" fill="#222" stroke="#222" stroke-width="0.25" >75</text>
<line x1="413.60" y1="206.20" x2="416.90" y2="206.20" stroke="#111" stroke-width="1.0" />
<text x="410.70" y="208.70" font-size="5.9" text-anchor="end" font-weight="normal" fill="#222" stroke="#222" stroke-width="0.25" >100</text>
<line x1="416.90" y1="267.50" x2="416.90" y2="270.50" stroke="#111" stroke-width="1.0" />
<text x="416.90" y="278.80" font-size="5.9" text-anchor="middle" font-weight="normal" fill="#222" stroke="#222" stroke-width="0.25" >0</text>
<line x1="434.50" y1="267.50" x2="434.50" y2="270.50" stroke="#111" stroke-width="1.0" />
<text x="434.50" y="278.80" font-size="5.9" text-anchor="middle" font-weight="normal" fill="#222" stroke="#222" stroke-width="0.25" >30</text>
<line x1="452.30" y1="267.50" x2="452.30" y2="270.50" stroke="#111" stroke-width="1.0" />
<text x="452.30" y="278.80" font-size="5.9" text-anchor="middle" font-weight="normal" fill="#222" stroke="#222" stroke-width="0.25" >60</text>
<line x1="470.10" y1="267.50" x2="470.10" y2="270.50" stroke="#111" stroke-width="1.0" />
<text x="470.10" y="278.80" font-size="5.9" text-anchor="middle" font-weight="normal" fill="#222" stroke="#222" stroke-width="0.25" >90</text>
<line x1="482.80" y1="267.50" x2="482.80" y2="270.50" stroke="#111" stroke-width="1.0" />
<text x="482.80" y="278.80" font-size="5.9" text-anchor="middle" font-weight="normal" fill="#222" stroke="#222" stroke-width="0.25" >180</text>
<line x1="495.60" y1="267.50" x2="495.60" y2="270.50" stroke="#111" stroke-width="1.0" />
<text x="495.60" y="278.80" font-size="5.9" text-anchor="middle" font-weight="normal" fill="#222" stroke="#222" stroke-width="0.25" >270</text>
<line x1="508.30" y1="267.50" x2="508.30" y2="270.50" stroke="#111" stroke-width="1.0" />
<text x="508.30" y="278.80" font-size="5.9" text-anchor="middle" font-weight="normal" fill="#222" stroke="#222" stroke-width="0.25" >360</text>
<rect x="469.00" y="265.30" width="2.20" height="4.60" fill="#111" />
<text x="462.50" y="202.80" font-size="10.9" text-anchor="middle" font-weight="bold" fill="#000" stroke="#000" stroke-width="0.15" >CD62L</text>
<line x1="416.90" y1="249.97" x2="416.90" y2="254.87" stroke="#2e3533" stroke-width="0.9" />
<line x1="415.80" y1="249.97" x2="418.00" y2="249.97" stroke="#2e3533" stroke-width="1.2" />
<line x1="415.80" y1="254.87" x2="418.00" y2="254.87" stroke="#2e3533" stroke-width="1.2" />
<line x1="425.70" y1="228.15" x2="425.70" y2="234.09" stroke="#2e3533" stroke-width="0.9" />
<line x1="424.60" y1="228.15" x2="426.80" y2="228.15" stroke="#2e3533" stroke-width="1.2" />
<line x1="424.60" y1="234.09" x2="426.80" y2="234.09" stroke="#2e3533" stroke-width="1.2" />
<line x1="434.50" y1="221.34" x2="434.50" y2="227.23" stroke="#2e3533" stroke-width="0.9" />
<line x1="433.40" y1="221.34" x2="435.60" y2="221.34" stroke="#2e3533" stroke-width="1.2" />
<line x1="433.40" y1="227.23" x2="435.60" y2="227.23" stroke="#2e3533" stroke-width="1.2" />
<line x1="452.30" y1="220.42" x2="452.30" y2="223.30" stroke="#2e3533" stroke-width="0.9" />
<line x1="451.20" y1="220.42" x2="453.40" y2="220.42" stroke="#2e3533" stroke-width="1.2" />
<line x1="451.20" y1="223.30" x2="453.40" y2="223.30" stroke="#2e3533" stroke-width="1.2" />
<line x1="470.10" y1="225.26" x2="470.10" y2="232.19" stroke="#2e3533" stroke-width="0.9" />
<line x1="469.00" y1="225.26" x2="471.20" y2="225.26" stroke="#2e3533" stroke-width="1.2" />
<line x1="469.00" y1="232.19" x2="471.20" y2="232.19" stroke="#2e3533" stroke-width="1.2" />
<line x1="482.80" y1="230.78" x2="482.80" y2="238.08" stroke="#2e3533" stroke-width="0.9" />
<line x1="481.70" y1="230.78" x2="483.90" y2="230.78" stroke="#2e3533" stroke-width="1.2" />
<line x1="481.70" y1="238.08" x2="483.90" y2="238.08" stroke="#2e3533" stroke-width="1.2" />
<line x1="495.60" y1="243.29" x2="495.60" y2="252.79" stroke="#2e3533" stroke-width="0.9" />
<line x1="494.50" y1="243.29" x2="496.70" y2="243.29" stroke="#2e3533" stroke-width="1.2" />
<line x1="494.50" y1="252.79" x2="496.70" y2="252.79" stroke="#2e3533" stroke-width="1.2" />
<line x1="508.30" y1="238.08" x2="508.30" y2="255.12" stroke="#2e3533" stroke-width="0.9" />
<line x1="507.20" y1="238.08" x2="509.40" y2="238.08" stroke="#2e3533" stroke-width="1.2" />
<line x1="507.20" y1="255.12" x2="509.40" y2="255.12" stroke="#2e3533" stroke-width="1.2" />
<polyline points="416.90,252.42 425.70,231.15 434.50,224.28 452.30,221.95 470.10,228.76 482.80,234.70 495.60,247.88 508.30,246.29" fill="none" stroke="#8a1d3d" stroke-width="1.6" stroke-linejoin="round"/>
<circle cx="416.90" cy="252.42" r="1.1" fill="#6a0c28"/>
<circle cx="425.70" cy="231.15" r="1.1" fill="#6a0c28"/>
<circle cx="434.50" cy="224.28" r="1.1" fill="#6a0c28"/>
<circle cx="452.30" cy="221.95" r="1.1" fill="#6a0c28"/>
<circle cx="470.10" cy="228.76" r="1.1" fill="#6a0c28"/>
<circle cx="482.80" cy="234.70" r="1.1" fill="#6a0c28"/>
<circle cx="495.60" cy="247.88" r="1.1" fill="#6a0c28"/>
<circle cx="508.30" cy="246.29" r="1.1" fill="#6a0c28"/>
<rect x="45.80" y="345.58" width="91.10" height="16.31" fill="#dedede" />
<path d="M44.3,327.80 H136.90 V389.1 H44.3 Z" fill="none" stroke="#111" stroke-width="1.35"/>
<line x1="41.00" y1="389.10" x2="44.30" y2="389.10" stroke="#111" stroke-width="1.0" />
<text x="38.10" y="391.60" font-size="5.9" text-anchor="end" font-weight="normal" fill="#222" stroke="#222" stroke-width="0.25" >0</text>
<line x1="41.00" y1="373.78" x2="44.30" y2="373.78" stroke="#111" stroke-width="1.0" />
<text x="38.10" y="376.28" font-size="5.9" text-anchor="end" font-weight="normal" fill="#222" stroke="#222" stroke-width="0.25" >25</text>
<line x1="41.00" y1="358.45" x2="44.30" y2="358.45" stroke="#111" stroke-width="1.0" />
<text x="38.10" y="360.95" font-size="5.9" text-anchor="end" font-weight="normal" fill="#222" stroke="#222" stroke-width="0.25" >50</text>
<line x1="41.00" y1="343.12" x2="44.30" y2="343.12" stroke="#111" stroke-width="1.0" />
<text x="38.10" y="345.62" font-size="5.9" text-anchor="end" font-weight="normal" fill="#222" stroke="#222" stroke-width="0.25" >75</text>
<line x1="41.00" y1="327.80" x2="44.30" y2="327.80" stroke="#111" stroke-width="1.0" />
<text x="38.10" y="330.30" font-size="5.9" text-anchor="end" font-weight="normal" fill="#222" stroke="#222" stroke-width="0.25" >100</text>
<line x1="44.30" y1="389.10" x2="44.30" y2="392.10" stroke="#111" stroke-width="1.0" />
<text x="44.30" y="400.40" font-size="5.9" text-anchor="middle" font-weight="normal" fill="#222" stroke="#222" stroke-width="0.25" >0</text>
<line x1="61.90" y1="389.10" x2="61.90" y2="392.10" stroke="#111" stroke-width="1.0" />
<text x="61.90" y="400.40" font-size="5.9" text-anchor="middle" font-weight="normal" fill="#222" stroke="#222" stroke-width="0.25" >30</text>
<line x1="79.70" y1="389.10" x2="79.70" y2="392.10" stroke="#111" stroke-width="1.0" />
<text x="79.70" y="400.40" font-size="5.9" text-anchor="middle" font-weight="normal" fill="#222" stroke="#222" stroke-width="0.25" >60</text>
<line x1="97.50" y1="389.10" x2="97.50" y2="392.10" stroke="#111" stroke-width="1.0" />
<text x="97.50" y="400.40" font-size="5.9" text-anchor="middle" font-weight="normal" fill="#222" stroke="#222" stroke-width="0.25" >90</text>
<line x1="110.20" y1="389.10" x2="110.20" y2="392.10" stroke="#111" stroke-width="1.0" />
<text x="110.20" y="400.40" font-size="5.9" text-anchor="middle" font-weight="normal" fill="#222" stroke="#222" stroke-width="0.25" >180</text>
<line x1="123.00" y1="389.10" x2="123.00" y2="392.10" stroke="#111" stroke-width="1.0" />
<text x="123.00" y="400.40" font-size="5.9" text-anchor="middle" font-weight="normal" fill="#222" stroke="#222" stroke-width="0.25" >270</text>
<line x1="135.70" y1="389.10" x2="135.70" y2="392.10" stroke="#111" stroke-width="1.0" />
<text x="135.70" y="400.40" font-size="5.9" text-anchor="middle" font-weight="normal" fill="#222" stroke="#222" stroke-width="0.25" >360</text>
<rect x="96.40" y="386.90" width="2.20" height="4.60" fill="#111" />
<text x="89.90" y="324.40" font-size="10.9" text-anchor="middle" font-weight="bold" fill="#000" stroke="#000" stroke-width="0.15" >KIR</text>
<line x1="44.30" y1="352.93" x2="44.30" y2="357.84" stroke="#2e3533" stroke-width="0.9" />
<line x1="43.20" y1="352.93" x2="45.40" y2="352.93" stroke="#2e3533" stroke-width="1.2" />
<line x1="43.20" y1="357.84" x2="45.40" y2="357.84" stroke="#2e3533" stroke-width="1.2" />
<line x1="53.10" y1="369.12" x2="53.10" y2="378.00" stroke="#2e3533" stroke-width="0.9" />
<line x1="52.00" y1="369.12" x2="54.20" y2="369.12" stroke="#2e3533" stroke-width="1.2" />
<line x1="52.00" y1="378.00" x2="54.20" y2="378.00" stroke="#2e3533" stroke-width="1.2" />
<line x1="61.90" y1="375.12" x2="61.90" y2="381.62" stroke="#2e3533" stroke-width="0.9" />
<line x1="60.80" y1="375.12" x2="63.00" y2="375.12" stroke="#2e3533" stroke-width="1.2" />
<line x1="60.80" y1="381.62" x2="63.00" y2="381.62" stroke="#2e3533" stroke-width="1.2" />
<line x1="79.70" y1="354.34" x2="79.70" y2="365.50" stroke="#2e3533" stroke-width="0.9" />
<line x1="78.60" y1="354.34" x2="80.80" y2="354.34" stroke="#2e3533" stroke-width="1.2" />
<line x1="78.60" y1="365.50" x2="80.80" y2="365.50" stroke="#2e3533" stroke-width="1.2" />
<line x1="97.50" y1="354.34" x2="97.50" y2="367.09" stroke="#2e3533" stroke-width="0.9" />
<line x1="96.40" y1="354.34" x2="98.60" y2="354.34" stroke="#2e3533" stroke-width="1.2" />
<line x1="96.40" y1="367.09" x2="98.60" y2="367.09" stroke="#2e3533" stroke-width="1.2" />
<line x1="110.20" y1="358.33" x2="110.20" y2="365.74" stroke="#2e3533" stroke-width="0.9" />
<line x1="109.10" y1="358.33" x2="111.30" y2="358.33" stroke="#2e3533" stroke-width="1.2" />
<line x1="109.10" y1="365.74" x2="111.30" y2="365.74" stroke="#2e3533" stroke-width="1.2" />
<line x1="123.00" y1="352.07" x2="123.00" y2="359.31" stroke="#2e3533" stroke-width="0.9" />
<line x1="121.90" y1="352.07" x2="124.10" y2="352.07" stroke="#2e3533" stroke-width="1.2" />
<line x1="121.90" y1="359.31" x2="124.10" y2="359.31" stroke="#2e3533" stroke-width="1.2" />
<line x1="135.70" y1="348.40" x2="135.70" y2="364.95" stroke="#2e3533" stroke-width="0.9" />
<line x1="134.60" y1="348.40" x2="136.80" y2="348.40" stroke="#2e3533" stroke-width="1.2" />
<line x1="134.60" y1="364.95" x2="136.80" y2="364.95" stroke="#2e3533" stroke-width="1.2" />
<polyline points="44.30,355.38 53.10,372.73 61.90,378.13 79.70,359.86 97.50,360.66 110.20,361.88 123.00,355.38 135.70,356.37" fill="none" stroke="#8a1d3d" stroke-width="1.6" stroke-linejoin="round"/>
<circle cx="44.30" cy="355.38" r="1.1" fill="#6a0c28"/>
<circle cx="53.10" cy="372.73" r="1.1" fill="#6a0c28"/>
<circle cx="61.90" cy="378.13" r="1.1" fill="#6a0c28"/>
<circle cx="79.70" cy="359.86" r="1.1" fill="#6a0c28"/>
<circle cx="97.50" cy="360.66" r="1.1" fill="#6a0c28"/>
<circle cx="110.20" cy="361.88" r="1.1" fill="#6a0c28"/>
<circle cx="123.00" cy="355.38" r="1.1" fill="#6a0c28"/>
<circle cx="135.70" cy="356.37" r="1.1" fill="#6a0c28"/>
<rect x="170.00" y="348.52" width="91.10" height="23.11" fill="#dedede" />
<path d="M168.5,327.80 H261.10 V389.1 H168.5 Z" fill="none" stroke="#111" stroke-width="1.35"/>
<line x1="165.20" y1="389.10" x2="168.50" y2="389.10" stroke="#111" stroke-width="1.0" />
<text x="162.30" y="391.60" font-size="5.9" text-anchor="end" font-weight="normal" fill="#222" stroke="#222" stroke-width="0.25" >0</text>
<line x1="165.20" y1="373.78" x2="168.50" y2="373.78" stroke="#111" stroke-width="1.0" />
<text x="162.30" y="376.28" font-size="5.9" text-anchor="end" font-weight="normal" fill="#222" stroke="#222" stroke-width="0.25" >25</text>
<line x1="165.20" y1="358.45" x2="168.50" y2="358.45" stroke="#111" stroke-width="1.0" />
<text x="162.30" y="360.95" font-size="5.9" text-anchor="end" font-weight="normal" fill="#222" stroke="#222" stroke-width="0.25" >50</text>
<line x1="165.20" y1="343.12" x2="168.50" y2="343.12" stroke="#111" stroke-width="1.0" />
<text x="162.30" y="345.62" font-size="5.9" text-anchor="end" font-weight="normal" fill="#222" stroke="#222" stroke-width="0.25" >75</text>
<line x1="165.20" y1="327.80" x2="168.50" y2="327.80" stroke="#111" stroke-width="1.0" />
<text x="162.30" y="330.30" font-size="5.9" text-anchor="end" font-weight="normal" fill="#222" stroke="#222" stroke-width="0.25" >100</text>
<line x1="168.50" y1="389.10" x2="168.50" y2="392.10" stroke="#111" stroke-width="1.0" />
<text x="168.50" y="400.40" font-size="5.9" text-anchor="middle" font-weight="normal" fill="#222" stroke="#222" stroke-width="0.25" >0</text>
<line x1="186.10" y1="389.10" x2="186.10" y2="392.10" stroke="#111" stroke-width="1.0" />
<text x="186.10" y="400.40" font-size="5.9" text-anchor="middle" font-weight="normal" fill="#222" stroke="#222" stroke-width="0.25" >30</text>
<line x1="203.90" y1="389.10" x2="203.90" y2="392.10" stroke="#111" stroke-width="1.0" />
<text x="203.90" y="400.40" font-size="5.9" text-anchor="middle" font-weight="normal" fill="#222" stroke="#222" stroke-width="0.25" >60</text>
<line x1="221.70" y1="389.10" x2="221.70" y2="392.10" stroke="#111" stroke-width="1.0" />
<text x="221.70" y="400.40" font-size="5.9" text-anchor="middle" font-weight="normal" fill="#222" stroke="#222" stroke-width="0.25" >90</text>
<line x1="234.40" y1="389.10" x2="234.40" y2="392.10" stroke="#111" stroke-width="1.0" />
<text x="234.40" y="400.40" font-size="5.9" text-anchor="middle" font-weight="normal" fill="#222" stroke="#222" stroke-width="0.25" >180</text>
<line x1="247.20" y1="389.10" x2="247.20" y2="392.10" stroke="#111" stroke-width="1.0" />
<text x="247.20" y="400.40" font-size="5.9" text-anchor="middle" font-weight="normal" fill="#222" stroke="#222" stroke-width="0.25" >270</text>
<line x1="259.90" y1="389.10" x2="259.90" y2="392.10" stroke="#111" stroke-width="1.0" />
<text x="259.90" y="400.40" font-size="5.9" text-anchor="middle" font-weight="normal" fill="#222" stroke="#222" stroke-width="0.25" >360</text>
<rect x="220.60" y="386.90" width="2.20" height="4.60" fill="#111" />
<text x="214.10" y="324.40" font-size="10.9" text-anchor="middle" font-weight="bold" fill="#000" stroke="#000" stroke-width="0.15" >NKG2A</text>
<line x1="177.30" y1="357.04" x2="177.30" y2="369.79" stroke="#2e3533" stroke-width="0.9" />
<line x1="176.20" y1="357.04" x2="178.40" y2="357.04" stroke="#2e3533" stroke-width="1.2" />
<line x1="176.20" y1="369.79" x2="178.40" y2="369.79" stroke="#2e3533" stroke-width="1.2" />
<line x1="186.10" y1="336.75" x2="186.10" y2="347.17" stroke="#2e3533" stroke-width="0.9" />
<line x1="185.00" y1="336.75" x2="187.20" y2="336.75" stroke="#2e3533" stroke-width="1.2" />
<line x1="185.00" y1="347.17" x2="187.20" y2="347.17" stroke="#2e3533" stroke-width="1.2" />
<line x1="203.90" y1="330.99" x2="203.90" y2="334.54" stroke="#2e3533" stroke-width="0.9" />
<line x1="202.80" y1="330.99" x2="205.00" y2="330.99" stroke="#2e3533" stroke-width="1.2" />
<line x1="202.80" y1="334.54" x2="205.00" y2="334.54" stroke="#2e3533" stroke-width="1.2" />
<line x1="221.70" y1="333.75" x2="221.70" y2="338.10" stroke="#2e3533" stroke-width="0.9" />
<line x1="220.60" y1="333.75" x2="222.80" y2="333.75" stroke="#2e3533" stroke-width="1.2" />
<line x1="220.60" y1="338.10" x2="222.80" y2="338.10" stroke="#2e3533" stroke-width="1.2" />
<line x1="234.40" y1="340.24" x2="234.40" y2="347.17" stroke="#2e3533" stroke-width="0.9" />
<line x1="233.30" y1="340.24" x2="235.50" y2="340.24" stroke="#2e3533" stroke-width="1.2" />
<line x1="233.30" y1="347.17" x2="235.50" y2="347.17" stroke="#2e3533" stroke-width="1.2" />
<line x1="247.20" y1="345.64" x2="247.20" y2="352.57" stroke="#2e3533" stroke-width="0.9" />
<line x1="246.10" y1="345.64" x2="248.30" y2="345.64" stroke="#2e3533" stroke-width="1.2" />
<line x1="246.10" y1="352.57" x2="248.30" y2="352.57" stroke="#2e3533" stroke-width="1.2" />
<line x1="259.90" y1="347.60" x2="259.90" y2="360.35" stroke="#2e3533" stroke-width="0.9" />
<line x1="258.80" y1="347.60" x2="261.00" y2="347.60" stroke="#2e3533" stroke-width="1.2" />
<line x1="258.80" y1="360.35" x2="261.00" y2="360.35" stroke="#2e3533" stroke-width="1.2" />
<polyline points="168.50,363.35 177.30,363.35 186.10,341.65 203.90,332.83 221.70,335.77 234.40,343.55 247.20,349.13 259.90,353.42" fill="none" stroke="#8a1d3d" stroke-width="1.6" stroke-linejoin="round"/>
<circle cx="168.50" cy="363.35" r="1.1" fill="#6a0c28"/>
<circle cx="177.30" cy="363.35" r="1.1" fill="#6a0c28"/>
<circle cx="186.10" cy="341.65" r="1.1" fill="#6a0c28"/>
<circle cx="203.90" cy="332.83" r="1.1" fill="#6a0c28"/>
<circle cx="221.70" cy="335.77" r="1.1" fill="#6a0c28"/>
<circle cx="234.40" cy="343.55" r="1.1" fill="#6a0c28"/>
<circle cx="247.20" cy="349.13" r="1.1" fill="#6a0c28"/>
<circle cx="259.90" cy="353.42" r="1.1" fill="#6a0c28"/>
<rect x="294.20" y="368.87" width="91.10" height="18.14" fill="#dedede" />
<path d="M292.7,327.80 H385.30 V389.1 H292.7 Z" fill="none" stroke="#111" stroke-width="1.35"/>
<line x1="289.40" y1="389.10" x2="292.70" y2="389.10" stroke="#111" stroke-width="1.0" />
<text x="286.50" y="391.60" font-size="5.9" text-anchor="end" font-weight="normal" fill="#222" stroke="#222" stroke-width="0.25" >0</text>
<line x1="289.40" y1="373.78" x2="292.70" y2="373.78" stroke="#111" stroke-width="1.0" />
<text x="286.50" y="376.28" font-size="5.9" text-anchor="end" font-weight="normal" fill="#222" stroke="#222" stroke-width="0.25" >25</text>
<line x1="289.40" y1="358.45" x2="292.70" y2="358.45" stroke="#111" stroke-width="1.0" />
<text x="286.50" y="360.95" font-size="5.9" text-anchor="end" font-weight="normal" fill="#222" stroke="#222" stroke-width="0.25" >50</text>
<line x1="289.40" y1="343.12" x2="292.70" y2="343.12" stroke="#111" stroke-width="1.0" />
<text x="286.50" y="345.62" font-size="5.9" text-anchor="end" font-weight="normal" fill="#222" stroke="#222" stroke-width="0.25" >75</text>
<line x1="289.40" y1="327.80" x2="292.70" y2="327.80" stroke="#111" stroke-width="1.0" />
<text x="286.50" y="330.30" font-size="5.9" text-anchor="end" font-weight="normal" fill="#222" stroke="#222" stroke-width="0.25" >100</text>
<line x1="292.70" y1="389.10" x2="292.70" y2="392.10" stroke="#111" stroke-width="1.0" />
<text x="292.70" y="400.40" font-size="5.9" text-anchor="middle" font-weight="normal" fill="#222" stroke="#222" stroke-width="0.25" >0</text>
<line x1="310.30" y1="389.10" x2="310.30" y2="392.10" stroke="#111" stroke-width="1.0" />
<text x="310.30" y="400.40" font-size="5.9" text-anchor="middle" font-weight="normal" fill="#222" stroke="#222" stroke-width="0.25" >30</text>
<line x1="328.10" y1="389.10" x2="328.10" y2="392.10" stroke="#111" stroke-width="1.0" />
<text x="328.10" y="400.40" font-size="5.9" text-anchor="middle" font-weight="normal" fill="#222" stroke="#222" stroke-width="0.25" >60</text>
<line x1="345.90" y1="389.10" x2="345.90" y2="392.10" stroke="#111" stroke-width="1.0" />
<text x="345.90" y="400.40" font-size="5.9" text-anchor="middle" font-weight="normal" fill="#222" stroke="#222" stroke-width="0.25" >90</text>
<line x1="358.60" y1="389.10" x2="358.60" y2="392.10" stroke="#111" stroke-width="1.0" />
<text x="358.60" y="400.40" font-size="5.9" text-anchor="middle" font-weight="normal" fill="#222" stroke="#222" stroke-width="0.25" >180</text>
<line x1="371.40" y1="389.10" x2="371.40" y2="392.10" stroke="#111" stroke-width="1.0" />
<text x="371.40" y="400.40" font-size="5.9" text-anchor="middle" font-weight="normal" fill="#222" stroke="#222" stroke-width="0.25" >270</text>
<line x1="384.10" y1="389.10" x2="384.10" y2="392.10" stroke="#111" stroke-width="1.0" />
<text x="384.10" y="400.40" font-size="5.9" text-anchor="middle" font-weight="normal" fill="#222" stroke="#222" stroke-width="0.25" >360</text>
<rect x="344.80" y="386.90" width="2.20" height="4.60" fill="#111" />
<text x="338.30" y="324.40" font-size="10.9" text-anchor="middle" font-weight="bold" fill="#000" stroke="#000" stroke-width="0.15" >NKG2C</text>
<line x1="301.50" y1="378.13" x2="301.50" y2="383.46" stroke="#2e3533" stroke-width="0.9" />
<line x1="300.40" y1="378.13" x2="302.60" y2="378.13" stroke="#2e3533" stroke-width="1.2" />
<line x1="300.40" y1="383.46" x2="302.60" y2="383.46" stroke="#2e3533" stroke-width="1.2" />
<line x1="310.30" y1="382.66" x2="310.30" y2="385.97" stroke="#2e3533" stroke-width="0.9" />
<line x1="309.20" y1="382.66" x2="311.40" y2="382.66" stroke="#2e3533" stroke-width="1.2" />
<line x1="309.20" y1="385.97" x2="311.40" y2="385.97" stroke="#2e3533" stroke-width="1.2" />
<line x1="328.10" y1="377.09" x2="328.10" y2="383.34" stroke="#2e3533" stroke-width="0.9" />
<line x1="327.00" y1="377.09" x2="329.20" y2="377.09" stroke="#2e3533" stroke-width="1.2" />
<line x1="327.00" y1="383.34" x2="329.20" y2="383.34" stroke="#2e3533" stroke-width="1.2" />
<line x1="358.60" y1="366.91" x2="358.60" y2="378.74" stroke="#2e3533" stroke-width="0.9" />
<line x1="357.50" y1="366.91" x2="359.70" y2="366.91" stroke="#2e3533" stroke-width="1.2" />
<line x1="357.50" y1="378.74" x2="359.70" y2="378.74" stroke="#2e3533" stroke-width="1.2" />
<line x1="371.40" y1="362.99" x2="371.40" y2="371.63" stroke="#2e3533" stroke-width="0.9" />
<line x1="370.30" y1="362.99" x2="372.50" y2="362.99" stroke="#2e3533" stroke-width="1.2" />
<line x1="370.30" y1="371.63" x2="372.50" y2="371.63" stroke="#2e3533" stroke-width="1.2" />
<line x1="384.10" y1="356.37" x2="384.10" y2="365.56" stroke="#2e3533" stroke-width="0.9" />
<line x1="383.00" y1="356.37" x2="385.20" y2="356.37" stroke="#2e3533" stroke-width="1.2" />
<line x1="383.00" y1="365.56" x2="385.20" y2="365.56" stroke="#2e3533" stroke-width="1.2" />
<polyline points="292.70,383.46 301.50,380.64 310.30,384.38 328.10,380.03 345.90,383.46 358.60,372.79 371.40,367.28 384.10,360.90" fill="none" stroke="#8a1d3d" stroke-width="1.6" stroke-linejoin="round"/>
<circle cx="292.70" cy="383.46" r="1.1" fill="#6a0c28"/>
<circle cx="301.50" cy="380.64" r="1.1" fill="#6a0c28"/>
<circle cx="310.30" cy="384.38" r="1.1" fill="#6a0c28"/>
<circle cx="328.10" cy="380.03" r="1.1" fill="#6a0c28"/>
<circle cx="345.90" cy="383.46" r="1.1" fill="#6a0c28"/>
<circle cx="358.60" cy="372.79" r="1.1" fill="#6a0c28"/>
<circle cx="371.40" cy="367.28" r="1.1" fill="#6a0c28"/>
<circle cx="384.10" cy="360.90" r="1.1" fill="#6a0c28"/>
<rect x="45.80" y="451.93" width="91.10" height="7.36" fill="#dedede" />
<path d="M44.3,450.70 H136.90 V512.0 H44.3 Z" fill="none" stroke="#111" stroke-width="1.35"/>
<line x1="41.00" y1="512.00" x2="44.30" y2="512.00" stroke="#111" stroke-width="1.0" />
<text x="38.10" y="514.50" font-size="5.9" text-anchor="end" font-weight="normal" fill="#222" stroke="#222" stroke-width="0.25" >0</text>
<line x1="41.00" y1="496.68" x2="44.30" y2="496.68" stroke="#111" stroke-width="1.0" />
<text x="38.10" y="499.18" font-size="5.9" text-anchor="end" font-weight="normal" fill="#222" stroke="#222" stroke-width="0.25" >25</text>
<line x1="41.00" y1="481.35" x2="44.30" y2="481.35" stroke="#111" stroke-width="1.0" />
<text x="38.10" y="483.85" font-size="5.9" text-anchor="end" font-weight="normal" fill="#222" stroke="#222" stroke-width="0.25" >50</text>
<line x1="41.00" y1="466.02" x2="44.30" y2="466.02" stroke="#111" stroke-width="1.0" />
<text x="38.10" y="468.52" font-size="5.9" text-anchor="end" font-weight="normal" fill="#222" stroke="#222" stroke-width="0.25" >75</text>
<line x1="41.00" y1="450.70" x2="44.30" y2="450.70" stroke="#111" stroke-width="1.0" />
<text x="38.10" y="453.20" font-size="5.9" text-anchor="end" font-weight="normal" fill="#222" stroke="#222" stroke-width="0.25" >100</text>
<line x1="44.30" y1="512.00" x2="44.30" y2="515.00" stroke="#111" stroke-width="1.0" />
<text x="44.30" y="523.30" font-size="5.9" text-anchor="middle" font-weight="normal" fill="#222" stroke="#222" stroke-width="0.25" >0</text>
<line x1="61.90" y1="512.00" x2="61.90" y2="515.00" stroke="#111" stroke-width="1.0" />
<text x="61.90" y="523.30" font-size="5.9" text-anchor="middle" font-weight="normal" fill="#222" stroke="#222" stroke-width="0.25" >30</text>
<line x1="79.70" y1="512.00" x2="79.70" y2="515.00" stroke="#111" stroke-width="1.0" />
<text x="79.70" y="523.30" font-size="5.9" text-anchor="middle" font-weight="normal" fill="#222" stroke="#222" stroke-width="0.25" >60</text>
<line x1="97.50" y1="512.00" x2="97.50" y2="515.00" stroke="#111" stroke-width="1.0" />
<text x="97.50" y="523.30" font-size="5.9" text-anchor="middle" font-weight="normal" fill="#222" stroke="#222" stroke-width="0.25" >90</text>
<line x1="110.20" y1="512.00" x2="110.20" y2="515.00" stroke="#111" stroke-width="1.0" />
<text x="110.20" y="523.30" font-size="5.9" text-anchor="middle" font-weight="normal" fill="#222" stroke="#222" stroke-width="0.25" >180</text>
<line x1="123.00" y1="512.00" x2="123.00" y2="515.00" stroke="#111" stroke-width="1.0" />
<text x="123.00" y="523.30" font-size="5.9" text-anchor="middle" font-weight="normal" fill="#222" stroke="#222" stroke-width="0.25" >270</text>
<line x1="135.70" y1="512.00" x2="135.70" y2="515.00" stroke="#111" stroke-width="1.0" />
<text x="135.70" y="523.30" font-size="5.9" text-anchor="middle" font-weight="normal" fill="#222" stroke="#222" stroke-width="0.25" >360</text>
<rect x="96.40" y="509.80" width="2.20" height="4.60" fill="#111" />
<text x="89.90" y="447.30" font-size="10.9" text-anchor="middle" font-weight="bold" fill="#000" stroke="#000" stroke-width="0.15" >DNAM-1</text>
<line x1="44.30" y1="458.30" x2="44.30" y2="463.21" stroke="#2e3533" stroke-width="0.9" />
<line x1="43.20" y1="458.30" x2="45.40" y2="458.30" stroke="#2e3533" stroke-width="1.2" />
<line x1="43.20" y1="463.21" x2="45.40" y2="463.21" stroke="#2e3533" stroke-width="1.2" />
<line x1="53.10" y1="476.02" x2="53.10" y2="487.17" stroke="#2e3533" stroke-width="0.9" />
<line x1="52.00" y1="476.02" x2="54.20" y2="476.02" stroke="#2e3533" stroke-width="1.2" />
<line x1="52.00" y1="487.17" x2="54.20" y2="487.17" stroke="#2e3533" stroke-width="1.2" />
<line x1="61.90" y1="474.36" x2="61.90" y2="482.82" stroke="#2e3533" stroke-width="0.9" />
<line x1="60.80" y1="474.36" x2="63.00" y2="474.36" stroke="#2e3533" stroke-width="1.2" />
<line x1="60.80" y1="482.82" x2="63.00" y2="482.82" stroke="#2e3533" stroke-width="1.2" />
<line x1="79.70" y1="463.21" x2="79.70" y2="470.13" stroke="#2e3533" stroke-width="0.9" />
<line x1="78.60" y1="463.21" x2="80.80" y2="463.21" stroke="#2e3533" stroke-width="1.2" />
<line x1="78.60" y1="470.13" x2="80.80" y2="470.13" stroke="#2e3533" stroke-width="1.2" />
<line x1="97.50" y1="460.63" x2="97.50" y2="466.45" stroke="#2e3533" stroke-width="0.9" />
<line x1="96.40" y1="460.63" x2="98.60" y2="460.63" stroke="#2e3533" stroke-width="1.2" />
<line x1="96.40" y1="466.45" x2="98.60" y2="466.45" stroke="#2e3533" stroke-width="1.2" />
<line x1="110.20" y1="457.20" x2="110.20" y2="460.94" stroke="#2e3533" stroke-width="0.9" />
<line x1="109.10" y1="457.20" x2="111.30" y2="457.20" stroke="#2e3533" stroke-width="1.2" />
<line x1="109.10" y1="460.94" x2="111.30" y2="460.94" stroke="#2e3533" stroke-width="1.2" />
<line x1="123.00" y1="456.46" x2="123.00" y2="460.94" stroke="#2e3533" stroke-width="0.9" />
<line x1="121.90" y1="456.46" x2="124.10" y2="456.46" stroke="#2e3533" stroke-width="1.2" />
<line x1="121.90" y1="460.94" x2="124.10" y2="460.94" stroke="#2e3533" stroke-width="1.2" />
<line x1="135.70" y1="455.36" x2="135.70" y2="460.69" stroke="#2e3533" stroke-width="0.9" />
<line x1="134.60" y1="455.36" x2="136.80" y2="455.36" stroke="#2e3533" stroke-width="1.2" />
<line x1="134.60" y1="460.69" x2="136.80" y2="460.69" stroke="#2e3533" stroke-width="1.2" />
<polyline points="44.30,460.75 53.10,481.66 61.90,478.90 79.70,466.88 97.50,463.57 110.20,459.04 123.00,458.67 135.70,458.06" fill="none" stroke="#8a1d3d" stroke-width="1.6" stroke-linejoin="round"/>
<circle cx="44.30" cy="460.75" r="1.1" fill="#6a0c28"/>
<circle cx="53.10" cy="481.66" r="1.1" fill="#6a0c28"/>
<circle cx="61.90" cy="478.90" r="1.1" fill="#6a0c28"/>
<circle cx="79.70" cy="466.88" r="1.1" fill="#6a0c28"/>
<circle cx="97.50" cy="463.57" r="1.1" fill="#6a0c28"/>
<circle cx="110.20" cy="459.04" r="1.1" fill="#6a0c28"/>
<circle cx="123.00" cy="458.67" r="1.1" fill="#6a0c28"/>
<circle cx="135.70" cy="458.06" r="1.1" fill="#6a0c28"/>
<path d="M168.5,450.70 H261.10 V512.0 H168.5 Z" fill="none" stroke="#111" stroke-width="1.35"/>
<line x1="165.20" y1="512.00" x2="168.50" y2="512.00" stroke="#111" stroke-width="1.0" />
<text x="162.30" y="514.50" font-size="5.9" text-anchor="end" font-weight="normal" fill="#222" stroke="#222" stroke-width="0.25" >0</text>
<line x1="165.20" y1="496.68" x2="168.50" y2="496.68" stroke="#111" stroke-width="1.0" />
<text x="162.30" y="499.18" font-size="5.9" text-anchor="end" font-weight="normal" fill="#222" stroke="#222" stroke-width="0.25" >25</text>
<line x1="165.20" y1="481.35" x2="168.50" y2="481.35" stroke="#111" stroke-width="1.0" />
<text x="162.30" y="483.85" font-size="5.9" text-anchor="end" font-weight="normal" fill="#222" stroke="#222" stroke-width="0.25" >50</text>
<line x1="165.20" y1="466.02" x2="168.50" y2="466.02" stroke="#111" stroke-width="1.0" />
<text x="162.30" y="468.52" font-size="5.9" text-anchor="end" font-weight="normal" fill="#222" stroke="#222" stroke-width="0.25" >75</text>
<line x1="165.20" y1="450.70" x2="168.50" y2="450.70" stroke="#111" stroke-width="1.0" />
<text x="162.30" y="453.20" font-size="5.9" text-anchor="end" font-weight="normal" fill="#222" stroke="#222" stroke-width="0.25" >100</text>
<line x1="168.50" y1="512.00" x2="168.50" y2="515.00" stroke="#111" stroke-width="1.0" />
<text x="168.50" y="523.30" font-size="5.9" text-anchor="middle" font-weight="normal" fill="#222" stroke="#222" stroke-width="0.25" >0</text>
<line x1="186.10" y1="512.00" x2="186.10" y2="515.00" stroke="#111" stroke-width="1.0" />
<text x="186.10" y="523.30" font-size="5.9" text-anchor="middle" font-weight="normal" fill="#222" stroke="#222" stroke-width="0.25" >30</text>
<line x1="203.90" y1="512.00" x2="203.90" y2="515.00" stroke="#111" stroke-width="1.0" />
<text x="203.90" y="523.30" font-size="5.9" text-anchor="middle" font-weight="normal" fill="#222" stroke="#222" stroke-width="0.25" >60</text>
<line x1="221.70" y1="512.00" x2="221.70" y2="515.00" stroke="#111" stroke-width="1.0" />
<text x="221.70" y="523.30" font-size="5.9" text-anchor="middle" font-weight="normal" fill="#222" stroke="#222" stroke-width="0.25" >90</text>
<line x1="234.40" y1="512.00" x2="234.40" y2="515.00" stroke="#111" stroke-width="1.0" />
<text x="234.40" y="523.30" font-size="5.9" text-anchor="middle" font-weight="normal" fill="#222" stroke="#222" stroke-width="0.25" >180</text>
<line x1="247.20" y1="512.00" x2="247.20" y2="515.00" stroke="#111" stroke-width="1.0" />
<text x="247.20" y="523.30" font-size="5.9" text-anchor="middle" font-weight="normal" fill="#222" stroke="#222" stroke-width="0.25" >270</text>
<line x1="259.90" y1="512.00" x2="259.90" y2="515.00" stroke="#111" stroke-width="1.0" />
<text x="259.90" y="523.30" font-size="5.9" text-anchor="middle" font-weight="normal" fill="#222" stroke="#222" stroke-width="0.25" >360</text>
<rect x="220.60" y="509.80" width="2.20" height="4.60" fill="#111" />
<text x="214.10" y="447.30" font-size="10.9" text-anchor="middle" font-weight="bold" fill="#000" stroke="#000" stroke-width="0.15" >2B4</text>
<line x1="177.30" y1="467.43" x2="177.30" y2="480.25" stroke="#2e3533" stroke-width="0.9" />
<line x1="176.20" y1="467.43" x2="178.40" y2="467.43" stroke="#2e3533" stroke-width="1.2" />
<line x1="176.20" y1="480.25" x2="178.40" y2="480.25" stroke="#2e3533" stroke-width="1.2" />
<line x1="186.10" y1="460.26" x2="186.10" y2="466.09" stroke="#2e3533" stroke-width="0.9" />
<line x1="185.00" y1="460.26" x2="187.20" y2="460.26" stroke="#2e3533" stroke-width="1.2" />
<line x1="185.00" y1="466.09" x2="187.20" y2="466.09" stroke="#2e3533" stroke-width="1.2" />
<line x1="221.70" y1="453.46" x2="221.70" y2="455.30" stroke="#2e3533" stroke-width="0.9" />
<line x1="220.60" y1="453.46" x2="222.80" y2="453.46" stroke="#2e3533" stroke-width="1.2" />
<line x1="220.60" y1="455.30" x2="222.80" y2="455.30" stroke="#2e3533" stroke-width="1.2" />
<line x1="259.90" y1="452.78" x2="259.90" y2="454.75" stroke="#2e3533" stroke-width="0.9" />
<line x1="258.80" y1="452.78" x2="261.00" y2="452.78" stroke="#2e3533" stroke-width="1.2" />
<line x1="258.80" y1="454.75" x2="261.00" y2="454.75" stroke="#2e3533" stroke-width="1.2" />
<polyline points="168.50,451.93 177.30,473.38 186.10,463.57 203.90,452.72 221.70,454.38 234.40,454.13 247.20,453.15 259.90,453.76" fill="none" stroke="#8a1d3d" stroke-width="1.6" stroke-linejoin="round"/>
<circle cx="168.50" cy="451.93" r="1.1" fill="#6a0c28"/>
<circle cx="177.30" cy="473.38" r="1.1" fill="#6a0c28"/>
<circle cx="186.10" cy="463.57" r="1.1" fill="#6a0c28"/>
<circle cx="203.90" cy="452.72" r="1.1" fill="#6a0c28"/>
<circle cx="221.70" cy="454.38" r="1.1" fill="#6a0c28"/>
<circle cx="234.40" cy="454.13" r="1.1" fill="#6a0c28"/>
<circle cx="247.20" cy="453.15" r="1.1" fill="#6a0c28"/>
<circle cx="259.90" cy="453.76" r="1.1" fill="#6a0c28"/>
<rect x="294.20" y="465.90" width="91.10" height="31.63" fill="#dedede" />
<path d="M292.7,450.70 H385.30 V512.0 H292.7 Z" fill="none" stroke="#111" stroke-width="1.35"/>
<line x1="289.40" y1="512.00" x2="292.70" y2="512.00" stroke="#111" stroke-width="1.0" />
<text x="286.50" y="514.50" font-size="5.9" text-anchor="end" font-weight="normal" fill="#222" stroke="#222" stroke-width="0.25" >0</text>
<line x1="289.40" y1="496.68" x2="292.70" y2="496.68" stroke="#111" stroke-width="1.0" />
<text x="286.50" y="499.18" font-size="5.9" text-anchor="end" font-weight="normal" fill="#222" stroke="#222" stroke-width="0.25" >25</text>
<line x1="289.40" y1="481.35" x2="292.70" y2="481.35" stroke="#111" stroke-width="1.0" />
<text x="286.50" y="483.85" font-size="5.9" text-anchor="end" font-weight="normal" fill="#222" stroke="#222" stroke-width="0.25" >50</text>
<line x1="289.40" y1="466.02" x2="292.70" y2="466.02" stroke="#111" stroke-width="1.0" />
<text x="286.50" y="468.52" font-size="5.9" text-anchor="end" font-weight="normal" fill="#222" stroke="#222" stroke-width="0.25" >75</text>
<line x1="289.40" y1="450.70" x2="292.70" y2="450.70" stroke="#111" stroke-width="1.0" />
<text x="286.50" y="453.20" font-size="5.9" text-anchor="end" font-weight="normal" fill="#222" stroke="#222" stroke-width="0.25" >100</text>
<line x1="292.70" y1="512.00" x2="292.70" y2="515.00" stroke="#111" stroke-width="1.0" />
<text x="292.70" y="523.30" font-size="5.9" text-anchor="middle" font-weight="normal" fill="#222" stroke="#222" stroke-width="0.25" >0</text>
<line x1="310.30" y1="512.00" x2="310.30" y2="515.00" stroke="#111" stroke-width="1.0" />
<text x="310.30" y="523.30" font-size="5.9" text-anchor="middle" font-weight="normal" fill="#222" stroke="#222" stroke-width="0.25" >30</text>
<line x1="328.10" y1="512.00" x2="328.10" y2="515.00" stroke="#111" stroke-width="1.0" />
<text x="328.10" y="523.30" font-size="5.9" text-anchor="middle" font-weight="normal" fill="#222" stroke="#222" stroke-width="0.25" >60</text>
<line x1="345.90" y1="512.00" x2="345.90" y2="515.00" stroke="#111" stroke-width="1.0" />
<text x="345.90" y="523.30" font-size="5.9" text-anchor="middle" font-weight="normal" fill="#222" stroke="#222" stroke-width="0.25" >90</text>
<line x1="358.60" y1="512.00" x2="358.60" y2="515.00" stroke="#111" stroke-width="1.0" />
<text x="358.60" y="523.30" font-size="5.9" text-anchor="middle" font-weight="normal" fill="#222" stroke="#222" stroke-width="0.25" >180</text>
<line x1="371.40" y1="512.00" x2="371.40" y2="515.00" stroke="#111" stroke-width="1.0" />
<text x="371.40" y="523.30" font-size="5.9" text-anchor="middle" font-weight="normal" fill="#222" stroke="#222" stroke-width="0.25" >270</text>
<line x1="384.10" y1="512.00" x2="384.10" y2="515.00" stroke="#111" stroke-width="1.0" />
<text x="384.10" y="523.30" font-size="5.9" text-anchor="middle" font-weight="normal" fill="#222" stroke="#222" stroke-width="0.25" >360</text>
<rect x="344.80" y="509.80" width="2.20" height="4.60" fill="#111" />
<text x="338.30" y="447.30" font-size="10.9" text-anchor="middle" font-weight="bold" fill="#000" stroke="#000" stroke-width="0.15" >KLRG1</text>
<line x1="292.70" y1="474.85" x2="292.70" y2="479.76" stroke="#2e3533" stroke-width="0.9" />
<line x1="291.60" y1="474.85" x2="293.80" y2="474.85" stroke="#2e3533" stroke-width="1.2" />
<line x1="291.60" y1="479.76" x2="293.80" y2="479.76" stroke="#2e3533" stroke-width="1.2" />
<line x1="301.50" y1="503.54" x2="301.50" y2="507.83" stroke="#2e3533" stroke-width="0.9" />
<line x1="300.40" y1="503.54" x2="302.60" y2="503.54" stroke="#2e3533" stroke-width="1.2" />
<line x1="300.40" y1="507.83" x2="302.60" y2="507.83" stroke="#2e3533" stroke-width="1.2" />
<line x1="345.90" y1="495.76" x2="345.90" y2="501.95" stroke="#2e3533" stroke-width="0.9" />
<line x1="344.80" y1="495.76" x2="347.00" y2="495.76" stroke="#2e3533" stroke-width="1.2" />
<line x1="344.80" y1="501.95" x2="347.00" y2="501.95" stroke="#2e3533" stroke-width="1.2" />
<line x1="358.60" y1="486.25" x2="358.60" y2="496.49" stroke="#2e3533" stroke-width="0.9" />
<line x1="357.50" y1="486.25" x2="359.70" y2="486.25" stroke="#2e3533" stroke-width="1.2" />
<line x1="357.50" y1="496.49" x2="359.70" y2="496.49" stroke="#2e3533" stroke-width="1.2" />
<line x1="371.40" y1="468.48" x2="371.40" y2="483.19" stroke="#2e3533" stroke-width="0.9" />
<line x1="370.30" y1="468.48" x2="372.50" y2="468.48" stroke="#2e3533" stroke-width="1.2" />
<line x1="370.30" y1="483.19" x2="372.50" y2="483.19" stroke="#2e3533" stroke-width="1.2" />
<line x1="384.10" y1="475.47" x2="384.10" y2="488.83" stroke="#2e3533" stroke-width="0.9" />
<line x1="383.00" y1="475.47" x2="385.20" y2="475.47" stroke="#2e3533" stroke-width="1.2" />
<line x1="383.00" y1="488.83" x2="385.20" y2="488.83" stroke="#2e3533" stroke-width="1.2" />
<polyline points="292.70,477.30 301.50,505.56 310.30,509.55 328.10,506.97 345.90,498.64 358.60,491.16 371.40,475.40 384.10,481.84" fill="none" stroke="#8a1d3d" stroke-width="1.6" stroke-linejoin="round"/>
<circle cx="292.70" cy="477.30" r="1.1" fill="#6a0c28"/>
<circle cx="301.50" cy="505.56" r="1.1" fill="#6a0c28"/>
<circle cx="310.30" cy="509.55" r="1.1" fill="#6a0c28"/>
<circle cx="328.10" cy="506.97" r="1.1" fill="#6a0c28"/>
<circle cx="345.90" cy="498.64" r="1.1" fill="#6a0c28"/>
<circle cx="358.60" cy="491.16" r="1.1" fill="#6a0c28"/>
<circle cx="371.40" cy="475.40" r="1.1" fill="#6a0c28"/>
<circle cx="384.10" cy="481.84" r="1.1" fill="#6a0c28"/>
<rect x="418.40" y="478.90" width="91.10" height="16.80" fill="#dedede" />
<path d="M416.9,450.70 H509.50 V512.0 H416.9 Z" fill="none" stroke="#111" stroke-width="1.35"/>
<line x1="413.60" y1="512.00" x2="416.90" y2="512.00" stroke="#111" stroke-width="1.0" />
<text x="410.70" y="514.50" font-size="5.9" text-anchor="end" font-weight="normal" fill="#222" stroke="#222" stroke-width="0.25" >0</text>
<line x1="413.60" y1="496.68" x2="416.90" y2="496.68" stroke="#111" stroke-width="1.0" />
<text x="410.70" y="499.18" font-size="5.9" text-anchor="end" font-weight="normal" fill="#222" stroke="#222" stroke-width="0.25" >25</text>
<line x1="413.60" y1="481.35" x2="416.90" y2="481.35" stroke="#111" stroke-width="1.0" />
<text x="410.70" y="483.85" font-size="5.9" text-anchor="end" font-weight="normal" fill="#222" stroke="#222" stroke-width="0.25" >50</text>
<line x1="413.60" y1="466.02" x2="416.90" y2="466.02" stroke="#111" stroke-width="1.0" />
<text x="410.70" y="468.52" font-size="5.9" text-anchor="end" font-weight="normal" fill="#222" stroke="#222" stroke-width="0.25" >75</text>
<line x1="413.60" y1="450.70" x2="416.90" y2="450.70" stroke="#111" stroke-width="1.0" />
<text x="410.70" y="453.20" font-size="5.9" text-anchor="end" font-weight="normal" fill="#222" stroke="#222" stroke-width="0.25" >100</text>
<line x1="416.90" y1="512.00" x2="416.90" y2="515.00" stroke="#111" stroke-width="1.0" />
<text x="416.90" y="523.30" font-size="5.9" text-anchor="middle" font-weight="normal" fill="#222" stroke="#222" stroke-width="0.25" >0</text>
<line x1="434.50" y1="512.00" x2="434.50" y2="515.00" stroke="#111" stroke-width="1.0" />
<text x="434.50" y="523.30" font-size="5.9" text-anchor="middle" font-weight="normal" fill="#222" stroke="#222" stroke-width="0.25" >30</text>
<line x1="452.30" y1="512.00" x2="452.30" y2="515.00" stroke="#111" stroke-width="1.0" />
<text x="452.30" y="523.30" font-size="5.9" text-anchor="middle" font-weight="normal" fill="#222" stroke="#222" stroke-width="0.25" >60</text>
<line x1="470.10" y1="512.00" x2="470.10" y2="515.00" stroke="#111" stroke-width="1.0" />
<text x="470.10" y="523.30" font-size="5.9" text-anchor="middle" font-weight="normal" fill="#222" stroke="#222" stroke-width="0.25" >90</text>
<line x1="482.80" y1="512.00" x2="482.80" y2="515.00" stroke="#111" stroke-width="1.0" />
<text x="482.80" y="523.30" font-size="5.9" text-anchor="middle" font-weight="normal" fill="#222" stroke="#222" stroke-width="0.25" >180</text>
<line x1="495.60" y1="512.00" x2="495.60" y2="515.00" stroke="#111" stroke-width="1.0" />
<text x="495.60" y="523.30" font-size="5.9" text-anchor="middle" font-weight="normal" fill="#222" stroke="#222" stroke-width="0.25" >270</text>
<line x1="508.30" y1="512.00" x2="508.30" y2="515.00" stroke="#111" stroke-width="1.0" />
<text x="508.30" y="523.30" font-size="5.9" text-anchor="middle" font-weight="normal" fill="#222" stroke="#222" stroke-width="0.25" >360</text>
<rect x="469.00" y="509.80" width="2.20" height="4.60" fill="#111" />
<text x="462.50" y="447.30" font-size="10.9" text-anchor="middle" font-weight="bold" fill="#000" stroke="#000" stroke-width="0.15" >CD8</text>
<line x1="416.90" y1="486.56" x2="416.90" y2="492.51" stroke="#2e3533" stroke-width="0.9" />
<line x1="415.80" y1="486.56" x2="418.00" y2="486.56" stroke="#2e3533" stroke-width="1.2" />
<line x1="415.80" y1="492.51" x2="418.00" y2="492.51" stroke="#2e3533" stroke-width="1.2" />
<line x1="452.30" y1="492.14" x2="452.30" y2="497.66" stroke="#2e3533" stroke-width="0.9" />
<line x1="451.20" y1="492.14" x2="453.40" y2="492.14" stroke="#2e3533" stroke-width="1.2" />
<line x1="451.20" y1="497.66" x2="453.40" y2="497.66" stroke="#2e3533" stroke-width="1.2" />
<line x1="470.10" y1="488.52" x2="470.10" y2="492.45" stroke="#2e3533" stroke-width="0.9" />
<line x1="469.00" y1="488.52" x2="471.20" y2="488.52" stroke="#2e3533" stroke-width="1.2" />
<line x1="469.00" y1="492.45" x2="471.20" y2="492.45" stroke="#2e3533" stroke-width="1.2" />
<line x1="482.80" y1="485.27" x2="482.80" y2="491.10" stroke="#2e3533" stroke-width="0.9" />
<line x1="481.70" y1="485.27" x2="483.90" y2="485.27" stroke="#2e3533" stroke-width="1.2" />
<line x1="481.70" y1="491.10" x2="483.90" y2="491.10" stroke="#2e3533" stroke-width="1.2" />
<line x1="495.60" y1="490.79" x2="495.60" y2="495.63" stroke="#2e3533" stroke-width="0.9" />
<line x1="494.50" y1="490.79" x2="496.70" y2="490.79" stroke="#2e3533" stroke-width="1.2" />
<line x1="494.50" y1="495.63" x2="496.70" y2="495.63" stroke="#2e3533" stroke-width="1.2" />
<line x1="508.30" y1="486.25" x2="508.30" y2="494.47" stroke="#2e3533" stroke-width="0.9" />
<line x1="507.20" y1="486.25" x2="509.40" y2="486.25" stroke="#2e3533" stroke-width="1.2" />
<line x1="507.20" y1="494.47" x2="509.40" y2="494.47" stroke="#2e3533" stroke-width="1.2" />
<polyline points="416.90,489.56 425.70,499.00 434.50,500.05 452.30,495.14 470.10,490.55 482.80,488.15 495.60,493.12 508.30,490.18" fill="none" stroke="#8a1d3d" stroke-width="1.6" stroke-linejoin="round"/>
<circle cx="416.90" cy="489.56" r="1.1" fill="#6a0c28"/>
<circle cx="425.70" cy="499.00" r="1.1" fill="#6a0c28"/>
<circle cx="434.50" cy="500.05" r="1.1" fill="#6a0c28"/>
<circle cx="452.30" cy="495.14" r="1.1" fill="#6a0c28"/>
<circle cx="470.10" cy="490.55" r="1.1" fill="#6a0c28"/>
<circle cx="482.80" cy="488.15" r="1.1" fill="#6a0c28"/>
<circle cx="495.60" cy="493.12" r="1.1" fill="#6a0c28"/>
<circle cx="508.30" cy="490.18" r="1.1" fill="#6a0c28"/>
<rect x="45.80" y="584.03" width="91.10" height="18.21" fill="#dedede" />
<path d="M44.3,573.30 H136.90 V634.6 H44.3 Z" fill="none" stroke="#111" stroke-width="1.35"/>
<line x1="41.00" y1="634.60" x2="44.30" y2="634.60" stroke="#111" stroke-width="1.0" />
<text x="38.10" y="637.10" font-size="5.9" text-anchor="end" font-weight="normal" fill="#222" stroke="#222" stroke-width="0.25" >0</text>
<line x1="41.00" y1="619.27" x2="44.30" y2="619.27" stroke="#111" stroke-width="1.0" />
<text x="38.10" y="621.77" font-size="5.9" text-anchor="end" font-weight="normal" fill="#222" stroke="#222" stroke-width="0.25" >25</text>
<line x1="41.00" y1="603.95" x2="44.30" y2="603.95" stroke="#111" stroke-width="1.0" />
<text x="38.10" y="606.45" font-size="5.9" text-anchor="end" font-weight="normal" fill="#222" stroke="#222" stroke-width="0.25" >50</text>
<line x1="41.00" y1="588.62" x2="44.30" y2="588.62" stroke="#111" stroke-width="1.0" />
<text x="38.10" y="591.12" font-size="5.9" text-anchor="end" font-weight="normal" fill="#222" stroke="#222" stroke-width="0.25" >75</text>
<line x1="41.00" y1="573.30" x2="44.30" y2="573.30" stroke="#111" stroke-width="1.0" />
<text x="38.10" y="575.80" font-size="5.9" text-anchor="end" font-weight="normal" fill="#222" stroke="#222" stroke-width="0.25" >100</text>
<line x1="44.30" y1="634.60" x2="44.30" y2="637.60" stroke="#111" stroke-width="1.0" />
<text x="44.30" y="645.90" font-size="5.9" text-anchor="middle" font-weight="normal" fill="#222" stroke="#222" stroke-width="0.25" >0</text>
<line x1="61.90" y1="634.60" x2="61.90" y2="637.60" stroke="#111" stroke-width="1.0" />
<text x="61.90" y="645.90" font-size="5.9" text-anchor="middle" font-weight="normal" fill="#222" stroke="#222" stroke-width="0.25" >30</text>
<line x1="79.70" y1="634.60" x2="79.70" y2="637.60" stroke="#111" stroke-width="1.0" />
<text x="79.70" y="645.90" font-size="5.9" text-anchor="middle" font-weight="normal" fill="#222" stroke="#222" stroke-width="0.25" >60</text>
<line x1="97.50" y1="634.60" x2="97.50" y2="637.60" stroke="#111" stroke-width="1.0" />
<text x="97.50" y="645.90" font-size="5.9" text-anchor="middle" font-weight="normal" fill="#222" stroke="#222" stroke-width="0.25" >90</text>
<line x1="110.20" y1="634.60" x2="110.20" y2="637.60" stroke="#111" stroke-width="1.0" />
<text x="110.20" y="645.90" font-size="5.9" text-anchor="middle" font-weight="normal" fill="#222" stroke="#222" stroke-width="0.25" >180</text>
<line x1="123.00" y1="634.60" x2="123.00" y2="637.60" stroke="#111" stroke-width="1.0" />
<text x="123.00" y="645.90" font-size="5.9" text-anchor="middle" font-weight="normal" fill="#222" stroke="#222" stroke-width="0.25" >270</text>
<line x1="135.70" y1="634.60" x2="135.70" y2="637.60" stroke="#111" stroke-width="1.0" />
<text x="135.70" y="645.90" font-size="5.9" text-anchor="middle" font-weight="normal" fill="#222" stroke="#222" stroke-width="0.25" >360</text>
<rect x="96.40" y="632.40" width="2.20" height="4.60" fill="#111" />
<text x="89.90" y="569.90" font-size="10.9" text-anchor="middle" font-weight="bold" fill="#000" stroke="#000" stroke-width="0.15" >NKp30</text>
<line x1="53.10" y1="589.36" x2="53.10" y2="605.05" stroke="#2e3533" stroke-width="0.9" />
<line x1="52.00" y1="589.36" x2="54.20" y2="589.36" stroke="#2e3533" stroke-width="1.2" />
<line x1="52.00" y1="605.05" x2="54.20" y2="605.05" stroke="#2e3533" stroke-width="1.2" />
<line x1="61.90" y1="587.52" x2="61.90" y2="596.35" stroke="#2e3533" stroke-width="0.9" />
<line x1="60.80" y1="587.52" x2="63.00" y2="587.52" stroke="#2e3533" stroke-width="1.2" />
<line x1="60.80" y1="596.35" x2="63.00" y2="596.35" stroke="#2e3533" stroke-width="1.2" />
<line x1="79.70" y1="585.50" x2="79.70" y2="591.44" stroke="#2e3533" stroke-width="0.9" />
<line x1="78.60" y1="585.50" x2="80.80" y2="585.50" stroke="#2e3533" stroke-width="1.2" />
<line x1="78.60" y1="591.44" x2="80.80" y2="591.44" stroke="#2e3533" stroke-width="1.2" />
<line x1="97.50" y1="592.98" x2="97.50" y2="600.21" stroke="#2e3533" stroke-width="0.9" />
<line x1="96.40" y1="592.98" x2="98.60" y2="592.98" stroke="#2e3533" stroke-width="1.2" />
<line x1="96.40" y1="600.21" x2="98.60" y2="600.21" stroke="#2e3533" stroke-width="1.2" />
<line x1="110.20" y1="590.95" x2="110.20" y2="596.29" stroke="#2e3533" stroke-width="0.9" />
<line x1="109.10" y1="590.95" x2="111.30" y2="590.95" stroke="#2e3533" stroke-width="1.2" />
<line x1="109.10" y1="596.29" x2="111.30" y2="596.29" stroke="#2e3533" stroke-width="1.2" />
<line x1="123.00" y1="585.50" x2="123.00" y2="591.02" stroke="#2e3533" stroke-width="0.9" />
<line x1="121.90" y1="585.50" x2="124.10" y2="585.50" stroke="#2e3533" stroke-width="1.2" />
<line x1="121.90" y1="591.02" x2="124.10" y2="591.02" stroke="#2e3533" stroke-width="1.2" />
<line x1="135.70" y1="589.05" x2="135.70" y2="593.10" stroke="#2e3533" stroke-width="0.9" />
<line x1="134.60" y1="589.05" x2="136.80" y2="589.05" stroke="#2e3533" stroke-width="1.2" />
<line x1="134.60" y1="593.10" x2="136.80" y2="593.10" stroke="#2e3533" stroke-width="1.2" />
<polyline points="44.30,603.64 53.10,596.90 61.90,591.81 79.70,588.50 97.50,596.29 110.20,593.77 123.00,588.07 135.70,591.08" fill="none" stroke="#8a1d3d" stroke-width="1.6" stroke-linejoin="round"/>
<circle cx="44.30" cy="603.64" r="1.1" fill="#6a0c28"/>
<circle cx="53.10" cy="596.90" r="1.1" fill="#6a0c28"/>
<circle cx="61.90" cy="591.81" r="1.1" fill="#6a0c28"/>
<circle cx="79.70" cy="588.50" r="1.1" fill="#6a0c28"/>
<circle cx="97.50" cy="596.29" r="1.1" fill="#6a0c28"/>
<circle cx="110.20" cy="593.77" r="1.1" fill="#6a0c28"/>
<circle cx="123.00" cy="588.07" r="1.1" fill="#6a0c28"/>
<circle cx="135.70" cy="591.08" r="1.1" fill="#6a0c28"/>
<path d="M168.5,573.30 H261.10 V634.6 H168.5 Z" fill="none" stroke="#111" stroke-width="1.35"/>
<line x1="165.20" y1="634.60" x2="168.50" y2="634.60" stroke="#111" stroke-width="1.0" />
<text x="162.30" y="637.10" font-size="5.9" text-anchor="end" font-weight="normal" fill="#222" stroke="#222" stroke-width="0.25" >0</text>
<line x1="165.20" y1="619.27" x2="168.50" y2="619.27" stroke="#111" stroke-width="1.0" />
<text x="162.30" y="621.77" font-size="5.9" text-anchor="end" font-weight="normal" fill="#222" stroke="#222" stroke-width="0.25" >25</text>
<line x1="165.20" y1="603.95" x2="168.50" y2="603.95" stroke="#111" stroke-width="1.0" />
<text x="162.30" y="606.45" font-size="5.9" text-anchor="end" font-weight="normal" fill="#222" stroke="#222" stroke-width="0.25" >50</text>
<line x1="165.20" y1="588.62" x2="168.50" y2="588.62" stroke="#111" stroke-width="1.0" />
<text x="162.30" y="591.12" font-size="5.9" text-anchor="end" font-weight="normal" fill="#222" stroke="#222" stroke-width="0.25" >75</text>
<line x1="165.20" y1="573.30" x2="168.50" y2="573.30" stroke="#111" stroke-width="1.0" />
<text x="162.30" y="575.80" font-size="5.9" text-anchor="end" font-weight="normal" fill="#222" stroke="#222" stroke-width="0.25" >100</text>
<line x1="168.50" y1="634.60" x2="168.50" y2="637.60" stroke="#111" stroke-width="1.0" />
<text x="168.50" y="645.90" font-size="5.9" text-anchor="middle" font-weight="normal" fill="#222" stroke="#222" stroke-width="0.25" >0</text>
<line x1="186.10" y1="634.60" x2="186.10" y2="637.60" stroke="#111" stroke-width="1.0" />
<text x="186.10" y="645.90" font-size="5.9" text-anchor="middle" font-weight="normal" fill="#222" stroke="#222" stroke-width="0.25" >30</text>
<line x1="203.90" y1="634.60" x2="203.90" y2="637.60" stroke="#111" stroke-width="1.0" />
<text x="203.90" y="645.90" font-size="5.9" text-anchor="middle" font-weight="normal" fill="#222" stroke="#222" stroke-width="0.25" >60</text>
<line x1="221.70" y1="634.60" x2="221.70" y2="637.60" stroke="#111" stroke-width="1.0" />
<text x="221.70" y="645.90" font-size="5.9" text-anchor="middle" font-weight="normal" fill="#222" stroke="#222" stroke-width="0.25" >90</text>
<line x1="234.40" y1="634.60" x2="234.40" y2="637.60" stroke="#111" stroke-width="1.0" />
<text x="234.40" y="645.90" font-size="5.9" text-anchor="middle" font-weight="normal" fill="#222" stroke="#222" stroke-width="0.25" >180</text>
<line x1="247.20" y1="634.60" x2="247.20" y2="637.60" stroke="#111" stroke-width="1.0" />
<text x="247.20" y="645.90" font-size="5.9" text-anchor="middle" font-weight="normal" fill="#222" stroke="#222" stroke-width="0.25" >270</text>
<line x1="259.90" y1="634.60" x2="259.90" y2="637.60" stroke="#111" stroke-width="1.0" />
<text x="259.90" y="645.90" font-size="5.9" text-anchor="middle" font-weight="normal" fill="#222" stroke="#222" stroke-width="0.25" >360</text>
<rect x="220.60" y="632.40" width="2.20" height="4.60" fill="#111" />
<text x="214.10" y="569.90" font-size="10.9" text-anchor="middle" font-weight="bold" fill="#000" stroke="#000" stroke-width="0.15" >NKp44</text>
<line x1="186.10" y1="628.47" x2="186.10" y2="633.37" stroke="#2e3533" stroke-width="0.9" />
<line x1="185.00" y1="628.47" x2="187.20" y2="628.47" stroke="#2e3533" stroke-width="1.2" />
<line x1="185.00" y1="633.37" x2="187.20" y2="633.37" stroke="#2e3533" stroke-width="1.2" />
<line x1="221.70" y1="630.37" x2="221.70" y2="632.82" stroke="#2e3533" stroke-width="0.9" />
<line x1="220.60" y1="630.37" x2="222.80" y2="630.37" stroke="#2e3533" stroke-width="1.2" />
<line x1="220.60" y1="632.82" x2="222.80" y2="632.82" stroke="#2e3533" stroke-width="1.2" />
<polyline points="168.50,634.11 172.60,631.96 177.30,633.07 186.10,630.92 203.90,632.76 221.70,631.60 234.40,630.92 247.20,633.68 259.90,634.60" fill="none" stroke="#8a1d3d" stroke-width="1.6" stroke-linejoin="round"/>
<circle cx="168.50" cy="634.11" r="1.1" fill="#6a0c28"/>
<circle cx="172.60" cy="631.96" r="1.1" fill="#6a0c28"/>
<circle cx="177.30" cy="633.07" r="1.1" fill="#6a0c28"/>
<circle cx="186.10" cy="630.92" r="1.1" fill="#6a0c28"/>
<circle cx="203.90" cy="632.76" r="1.1" fill="#6a0c28"/>
<circle cx="221.70" cy="631.60" r="1.1" fill="#6a0c28"/>
<circle cx="234.40" cy="630.92" r="1.1" fill="#6a0c28"/>
<circle cx="247.20" cy="633.68" r="1.1" fill="#6a0c28"/>
<circle cx="259.90" cy="634.60" r="1.1" fill="#6a0c28"/>
<rect x="294.20" y="597.33" width="91.10" height="14.77" fill="#dedede" />
<path d="M292.7,573.30 H385.30 V634.6 H292.7 Z" fill="none" stroke="#111" stroke-width="1.35"/>
<line x1="289.40" y1="634.60" x2="292.70" y2="634.60" stroke="#111" stroke-width="1.0" />
<text x="286.50" y="637.10" font-size="5.9" text-anchor="end" font-weight="normal" fill="#222" stroke="#222" stroke-width="0.25" >0</text>
<line x1="289.40" y1="619.27" x2="292.70" y2="619.27" stroke="#111" stroke-width="1.0" />
<text x="286.50" y="621.77" font-size="5.9" text-anchor="end" font-weight="normal" fill="#222" stroke="#222" stroke-width="0.25" >25</text>
<line x1="289.40" y1="603.95" x2="292.70" y2="603.95" stroke="#111" stroke-width="1.0" />
<text x="286.50" y="606.45" font-size="5.9" text-anchor="end" font-weight="normal" fill="#222" stroke="#222" stroke-width="0.25" >50</text>
<line x1="289.40" y1="588.62" x2="292.70" y2="588.62" stroke="#111" stroke-width="1.0" />
<text x="286.50" y="591.12" font-size="5.9" text-anchor="end" font-weight="normal" fill="#222" stroke="#222" stroke-width="0.25" >75</text>
<line x1="289.40" y1="573.30" x2="292.70" y2="573.30" stroke="#111" stroke-width="1.0" />
<text x="286.50" y="575.80" font-size="5.9" text-anchor="end" font-weight="normal" fill="#222" stroke="#222" stroke-width="0.25" >100</text>
<line x1="292.70" y1="634.60" x2="292.70" y2="637.60" stroke="#111" stroke-width="1.0" />
<text x="292.70" y="645.90" font-size="5.9" text-anchor="middle" font-weight="normal" fill="#222" stroke="#222" stroke-width="0.25" >0</text>
<line x1="310.30" y1="634.60" x2="310.30" y2="637.60" stroke="#111" stroke-width="1.0" />
<text x="310.30" y="645.90" font-size="5.9" text-anchor="middle" font-weight="normal" fill="#222" stroke="#222" stroke-width="0.25" >30</text>
<line x1="328.10" y1="634.60" x2="328.10" y2="637.60" stroke="#111" stroke-width="1.0" />
<text x="328.10" y="645.90" font-size="5.9" text-anchor="middle" font-weight="normal" fill="#222" stroke="#222" stroke-width="0.25" >60</text>
<line x1="345.90" y1="634.60" x2="345.90" y2="637.60" stroke="#111" stroke-width="1.0" />
<text x="345.90" y="645.90" font-size="5.9" text-anchor="middle" font-weight="normal" fill="#222" stroke="#222" stroke-width="0.25" >90</text>
<line x1="358.60" y1="634.60" x2="358.60" y2="637.60" stroke="#111" stroke-width="1.0" />
<text x="358.60" y="645.90" font-size="5.9" text-anchor="middle" font-weight="normal" fill="#222" stroke="#222" stroke-width="0.25" >180</text>
<line x1="371.40" y1="634.60" x2="371.40" y2="637.60" stroke="#111" stroke-width="1.0" />
<text x="371.40" y="645.90" font-size="5.9" text-anchor="middle" font-weight="normal" fill="#222" stroke="#222" stroke-width="0.25" >270</text>
<line x1="384.10" y1="634.60" x2="384.10" y2="637.60" stroke="#111" stroke-width="1.0" />
<text x="384.10" y="645.90" font-size="5.9" text-anchor="middle" font-weight="normal" fill="#222" stroke="#222" stroke-width="0.25" >360</text>
<rect x="344.80" y="632.40" width="2.20" height="4.60" fill="#111" />
<text x="338.30" y="569.90" font-size="10.9" text-anchor="middle" font-weight="bold" fill="#000" stroke="#000" stroke-width="0.15" >NKp46</text>
<line x1="301.50" y1="599.23" x2="301.50" y2="613.51" stroke="#2e3533" stroke-width="0.9" />
<line x1="300.40" y1="599.23" x2="302.60" y2="599.23" stroke="#2e3533" stroke-width="1.2" />
<line x1="300.40" y1="613.51" x2="302.60" y2="613.51" stroke="#2e3533" stroke-width="1.2" />
<line x1="310.30" y1="589.85" x2="310.30" y2="601.13" stroke="#2e3533" stroke-width="0.9" />
<line x1="309.20" y1="589.85" x2="311.40" y2="589.85" stroke="#2e3533" stroke-width="1.2" />
<line x1="309.20" y1="601.13" x2="311.40" y2="601.13" stroke="#2e3533" stroke-width="1.2" />
<line x1="328.10" y1="584.09" x2="328.10" y2="590.03" stroke="#2e3533" stroke-width="0.9" />
<line x1="327.00" y1="584.09" x2="329.20" y2="584.09" stroke="#2e3533" stroke-width="1.2" />
<line x1="327.00" y1="590.03" x2="329.20" y2="590.03" stroke="#2e3533" stroke-width="1.2" />
<line x1="345.90" y1="591.08" x2="345.90" y2="599.05" stroke="#2e3533" stroke-width="0.9" />
<line x1="344.80" y1="591.08" x2="347.00" y2="591.08" stroke="#2e3533" stroke-width="1.2" />
<line x1="344.80" y1="599.05" x2="347.00" y2="599.05" stroke="#2e3533" stroke-width="1.2" />
<line x1="358.60" y1="595.49" x2="358.60" y2="597.94" stroke="#2e3533" stroke-width="0.9" />
<line x1="357.50" y1="595.49" x2="359.70" y2="595.49" stroke="#2e3533" stroke-width="1.2" />
<line x1="357.50" y1="597.94" x2="359.70" y2="597.94" stroke="#2e3533" stroke-width="1.2" />
<line x1="371.40" y1="602.23" x2="371.40" y2="612.04" stroke="#2e3533" stroke-width="0.9" />
<line x1="370.30" y1="602.23" x2="372.50" y2="602.23" stroke="#2e3533" stroke-width="1.2" />
<line x1="370.30" y1="612.04" x2="372.50" y2="612.04" stroke="#2e3533" stroke-width="1.2" />
<line x1="384.10" y1="603.28" x2="384.10" y2="614.06" stroke="#2e3533" stroke-width="0.9" />
<line x1="383.00" y1="603.28" x2="385.20" y2="603.28" stroke="#2e3533" stroke-width="1.2" />
<line x1="383.00" y1="614.06" x2="385.20" y2="614.06" stroke="#2e3533" stroke-width="1.2" />
<polyline points="292.70,618.66 301.50,606.77 310.30,595.37 328.10,587.09 345.90,594.75 358.60,596.72 371.40,606.77 384.10,608.55" fill="none" stroke="#8a1d3d" stroke-width="1.6" stroke-linejoin="round"/>
<circle cx="292.70" cy="618.66" r="1.1" fill="#6a0c28"/>
<circle cx="301.50" cy="606.77" r="1.1" fill="#6a0c28"/>
<circle cx="310.30" cy="595.37" r="1.1" fill="#6a0c28"/>
<circle cx="328.10" cy="587.09" r="1.1" fill="#6a0c28"/>
<circle cx="345.90" cy="594.75" r="1.1" fill="#6a0c28"/>
<circle cx="358.60" cy="596.72" r="1.1" fill="#6a0c28"/>
<circle cx="371.40" cy="606.77" r="1.1" fill="#6a0c28"/>
<circle cx="384.10" cy="608.55" r="1.1" fill="#6a0c28"/>
<text x="0.00" y="0.00" font-size="9.8" text-anchor="start" font-weight="normal" fill="#222" stroke="#222" stroke-width="0.45" textLength="46.60" lengthAdjust="spacingAndGlyphs" transform="translate(23.9,277.80) rotate(-90)">% / NK cells</text>
<line x1="28.20" y1="277.40" x2="28.20" y2="253.00" stroke="#000" stroke-width="1.3" />
<path d="M28.2,248.50 L25.8,254.10 L30.6,254.10 Z" fill="#000"/>
<line x1="42.90" y1="281.60" x2="66.50" y2="281.60" stroke="#000" stroke-width="1.3" />
<path d="M70.9,281.60 L65.0,279.40 L65.0,283.80 Z" fill="#000"/>
<text x="43.00" y="292.10" font-size="9.8" text-anchor="start" font-weight="normal" fill="#222" stroke="#222" stroke-width="0.45" textLength="61.90" lengthAdjust="spacingAndGlyphs" >Days after HSCT</text>
<text x="0.00" y="0.00" font-size="9.8" text-anchor="start" font-weight="normal" fill="#222" stroke="#222" stroke-width="0.45" textLength="46.60" lengthAdjust="spacingAndGlyphs" transform="translate(23.9,399.60) rotate(-90)">% / NK cells</text>
<line x1="28.20" y1="399.20" x2="28.20" y2="375.50" stroke="#000" stroke-width="1.3" />
<path d="M28.2,371.00 L25.8,376.60 L30.6,376.60 Z" fill="#000"/>
<line x1="42.90" y1="403.90" x2="66.50" y2="403.90" stroke="#000" stroke-width="1.3" />
<path d="M70.9,403.90 L65.0,401.70 L65.0,406.10 Z" fill="#000"/>
<text x="43.00" y="415.10" font-size="9.8" text-anchor="start" font-weight="normal" fill="#222" stroke="#222" stroke-width="0.45" textLength="61.90" lengthAdjust="spacingAndGlyphs" >Days after HSCT</text>
<text x="0.00" y="0.00" font-size="9.8" text-anchor="start" font-weight="normal" fill="#222" stroke="#222" stroke-width="0.45" textLength="46.60" lengthAdjust="spacingAndGlyphs" transform="translate(23.9,523.70) rotate(-90)">% / NK cells</text>
<line x1="28.20" y1="523.70" x2="28.20" y2="500.00" stroke="#000" stroke-width="1.3" />
<path d="M28.2,495.50 L25.8,501.10 L30.6,501.10 Z" fill="#000"/>
<line x1="42.90" y1="527.20" x2="66.50" y2="527.20" stroke="#000" stroke-width="1.3" />
<path d="M70.9,527.20 L65.0,525.00 L65.0,529.40 Z" fill="#000"/>
<text x="43.00" y="537.90" font-size="9.8" text-anchor="start" font-weight="normal" fill="#222" stroke="#222" stroke-width="0.45" textLength="61.90" lengthAdjust="spacingAndGlyphs" >Days after HSCT</text>
<text x="0.00" y="0.00" font-size="9.8" text-anchor="start" font-weight="normal" fill="#222" stroke="#222" stroke-width="0.45" textLength="46.60" lengthAdjust="spacingAndGlyphs" transform="translate(23.9,645.50) rotate(-90)">% / NK cells</text>
<line x1="28.20" y1="644.60" x2="28.20" y2="621.40" stroke="#000" stroke-width="1.3" />
<path d="M28.2,616.90 L25.8,622.50 L30.6,622.50 Z" fill="#000"/>
<line x1="42.90" y1="649.30" x2="66.50" y2="649.30" stroke="#000" stroke-width="1.3" />
<path d="M70.9,649.30 L65.0,647.10 L65.0,651.50 Z" fill="#000"/>
<text x="43.00" y="660.50" font-size="9.8" text-anchor="start" font-weight="normal" fill="#222" stroke="#222" stroke-width="0.45" textLength="61.90" lengthAdjust="spacingAndGlyphs" >Days after HSCT</text>
</g>
</svg>
</body></html>
